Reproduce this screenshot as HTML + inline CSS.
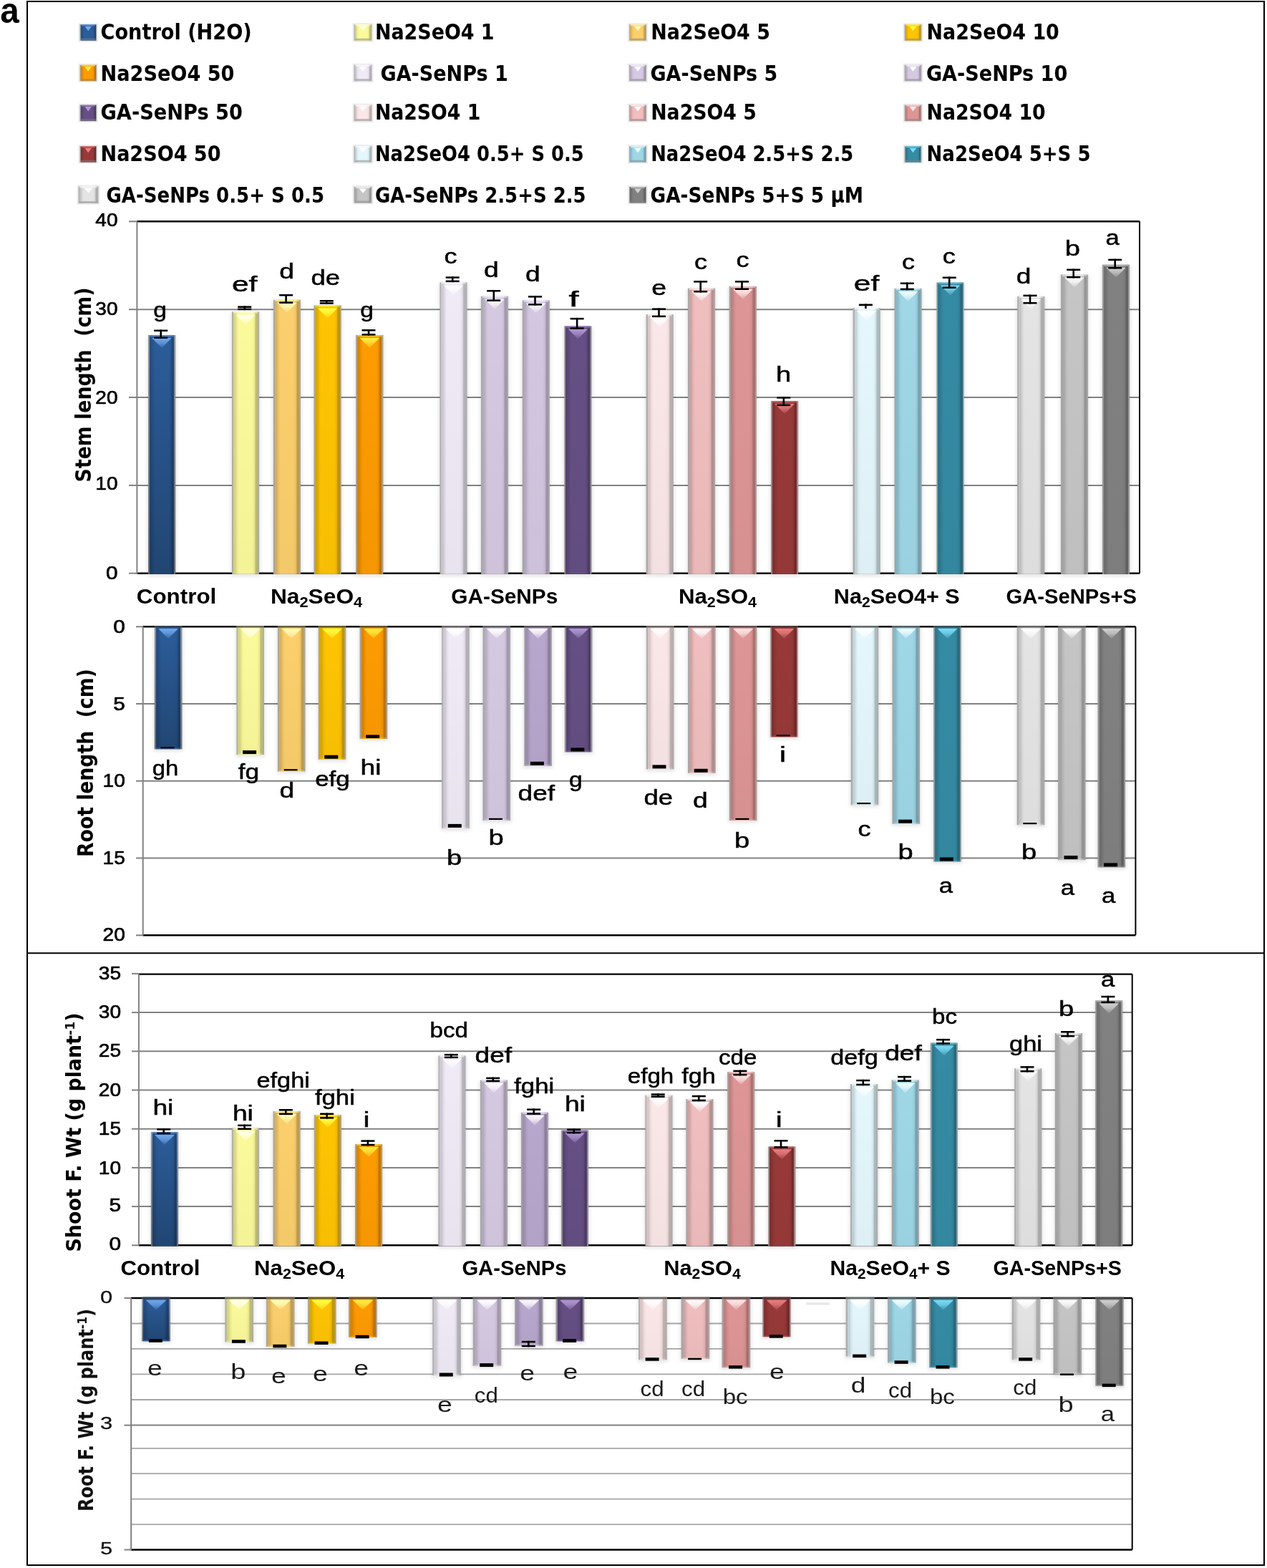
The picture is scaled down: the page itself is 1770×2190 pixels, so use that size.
<!DOCTYPE html>
<html><head><meta charset="utf-8"><title>Chart</title><style>html,body{margin:0;padding:0;background:#fff;}svg{display:block;}</style></head><body><svg width="1770" height="2190" viewBox="0 0 1770 2190"><defs><linearGradient id="vdark2" x1="0" x2="0" y1="0" y2="1"><stop offset="0" stop-color="#000" stop-opacity="0"/><stop offset="1" stop-color="#000" stop-opacity="0.25"/></linearGradient><linearGradient id="vdark" x1="0" x2="0" y1="0" y2="1"><stop offset="0" stop-color="#000" stop-opacity="0"/><stop offset="1" stop-color="#000" stop-opacity="0.03"/></linearGradient><linearGradient id="vg" x1="0" x2="0" y1="0" y2="1"><stop offset="0" stop-color="#fff" stop-opacity="0.75"/><stop offset="1" stop-color="#fff" stop-opacity="0.25"/></linearGradient><filter id="blur" x="-50%" y="-5%" width="200%" height="110%"><feGaussianBlur stdDeviation="2.5"/></filter><linearGradient id="gr2c5d9a" x1="0" x2="1" y1="0" y2="0"><stop offset="0.000" stop-color="#89939f"/><stop offset="0.050" stop-color="#89939f"/><stop offset="0.055" stop-color="#265084"/><stop offset="0.120" stop-color="#265084"/><stop offset="0.190" stop-color="#2a5892"/><stop offset="0.260" stop-color="#2c5d9a"/><stop offset="0.740" stop-color="#2c5d9a"/><stop offset="0.830" stop-color="#295791"/><stop offset="0.875" stop-color="#214775"/><stop offset="0.945" stop-color="#214775"/><stop offset="0.950" stop-color="#89939f"/><stop offset="1.000" stop-color="#89939f"/></linearGradient><linearGradient id="grfbfa9b" x1="0" x2="1" y1="0" y2="0"><stop offset="0.000" stop-color="#b2b29f"/><stop offset="0.050" stop-color="#b2b29f"/><stop offset="0.055" stop-color="#d8d785"/><stop offset="0.120" stop-color="#d8d785"/><stop offset="0.190" stop-color="#efee93"/><stop offset="0.260" stop-color="#fbfa9b"/><stop offset="0.740" stop-color="#fbfa9b"/><stop offset="0.830" stop-color="#eceb92"/><stop offset="0.875" stop-color="#bfbe76"/><stop offset="0.945" stop-color="#bfbe76"/><stop offset="0.950" stop-color="#b2b29f"/><stop offset="1.000" stop-color="#b2b29f"/></linearGradient><linearGradient id="grfbcf6c" x1="0" x2="1" y1="0" y2="0"><stop offset="0.000" stop-color="#b2a996"/><stop offset="0.050" stop-color="#b2a996"/><stop offset="0.055" stop-color="#d8b25d"/><stop offset="0.120" stop-color="#d8b25d"/><stop offset="0.190" stop-color="#efc567"/><stop offset="0.260" stop-color="#fbcf6c"/><stop offset="0.740" stop-color="#fbcf6c"/><stop offset="0.830" stop-color="#ecc366"/><stop offset="0.875" stop-color="#bf9d52"/><stop offset="0.945" stop-color="#bf9d52"/><stop offset="0.950" stop-color="#b2a996"/><stop offset="1.000" stop-color="#b2a996"/></linearGradient><linearGradient id="grfec403" x1="0" x2="1" y1="0" y2="0"><stop offset="0.000" stop-color="#b3a781"/><stop offset="0.050" stop-color="#b3a781"/><stop offset="0.055" stop-color="#daa903"/><stop offset="0.120" stop-color="#daa903"/><stop offset="0.190" stop-color="#f1bb03"/><stop offset="0.260" stop-color="#fec403"/><stop offset="0.740" stop-color="#fec403"/><stop offset="0.830" stop-color="#efb803"/><stop offset="0.875" stop-color="#c19502"/><stop offset="0.945" stop-color="#c19502"/><stop offset="0.950" stop-color="#b3a781"/><stop offset="1.000" stop-color="#b3a781"/></linearGradient><linearGradient id="grfd9b02" x1="0" x2="1" y1="0" y2="0"><stop offset="0.000" stop-color="#b39f80"/><stop offset="0.050" stop-color="#b39f80"/><stop offset="0.055" stop-color="#da8502"/><stop offset="0.120" stop-color="#da8502"/><stop offset="0.190" stop-color="#f19302"/><stop offset="0.260" stop-color="#fd9b02"/><stop offset="0.740" stop-color="#fd9b02"/><stop offset="0.830" stop-color="#ee9202"/><stop offset="0.875" stop-color="#c07602"/><stop offset="0.945" stop-color="#c07602"/><stop offset="0.950" stop-color="#b39f80"/><stop offset="1.000" stop-color="#b39f80"/></linearGradient><linearGradient id="grefeaf5" x1="0" x2="1" y1="0" y2="0"><stop offset="0.000" stop-color="#b0afb1"/><stop offset="0.050" stop-color="#b0afb1"/><stop offset="0.055" stop-color="#cec9d3"/><stop offset="0.120" stop-color="#cec9d3"/><stop offset="0.190" stop-color="#e3dee9"/><stop offset="0.260" stop-color="#efeaf5"/><stop offset="0.740" stop-color="#efeaf5"/><stop offset="0.830" stop-color="#e1dce6"/><stop offset="0.875" stop-color="#b6b2ba"/><stop offset="0.945" stop-color="#b6b2ba"/><stop offset="0.950" stop-color="#b0afb1"/><stop offset="1.000" stop-color="#b0afb1"/></linearGradient><linearGradient id="grd5c9e2" x1="0" x2="1" y1="0" y2="0"><stop offset="0.000" stop-color="#aba8ad"/><stop offset="0.050" stop-color="#aba8ad"/><stop offset="0.055" stop-color="#b7adc2"/><stop offset="0.120" stop-color="#b7adc2"/><stop offset="0.190" stop-color="#cabfd7"/><stop offset="0.260" stop-color="#d5c9e2"/><stop offset="0.740" stop-color="#d5c9e2"/><stop offset="0.830" stop-color="#c8bdd4"/><stop offset="0.875" stop-color="#a299ac"/><stop offset="0.945" stop-color="#a299ac"/><stop offset="0.950" stop-color="#aba8ad"/><stop offset="1.000" stop-color="#aba8ad"/></linearGradient><linearGradient id="gr654f84" x1="0" x2="1" y1="0" y2="0"><stop offset="0.000" stop-color="#94909a"/><stop offset="0.050" stop-color="#94909a"/><stop offset="0.055" stop-color="#574472"/><stop offset="0.120" stop-color="#574472"/><stop offset="0.190" stop-color="#604b7e"/><stop offset="0.260" stop-color="#654f84"/><stop offset="0.740" stop-color="#654f84"/><stop offset="0.830" stop-color="#5f4a7c"/><stop offset="0.875" stop-color="#4d3c64"/><stop offset="0.945" stop-color="#4d3c64"/><stop offset="0.950" stop-color="#94909a"/><stop offset="1.000" stop-color="#94909a"/></linearGradient><linearGradient id="grfbe7e7" x1="0" x2="1" y1="0" y2="0"><stop offset="0.000" stop-color="#b2aeae"/><stop offset="0.050" stop-color="#b2aeae"/><stop offset="0.055" stop-color="#d8c7c7"/><stop offset="0.120" stop-color="#d8c7c7"/><stop offset="0.190" stop-color="#efdcdc"/><stop offset="0.260" stop-color="#fbe7e7"/><stop offset="0.740" stop-color="#fbe7e7"/><stop offset="0.830" stop-color="#ecd9d9"/><stop offset="0.875" stop-color="#bfb0b0"/><stop offset="0.945" stop-color="#bfb0b0"/><stop offset="0.950" stop-color="#b2aeae"/><stop offset="1.000" stop-color="#b2aeae"/></linearGradient><linearGradient id="grf0bebe" x1="0" x2="1" y1="0" y2="0"><stop offset="0.000" stop-color="#b0a6a6"/><stop offset="0.050" stop-color="#b0a6a6"/><stop offset="0.055" stop-color="#cea3a3"/><stop offset="0.120" stop-color="#cea3a3"/><stop offset="0.190" stop-color="#e4b5b5"/><stop offset="0.260" stop-color="#f0bebe"/><stop offset="0.740" stop-color="#f0bebe"/><stop offset="0.830" stop-color="#e2b3b3"/><stop offset="0.875" stop-color="#b69090"/><stop offset="0.945" stop-color="#b69090"/><stop offset="0.950" stop-color="#b0a6a6"/><stop offset="1.000" stop-color="#b0a6a6"/></linearGradient><linearGradient id="grde9595" x1="0" x2="1" y1="0" y2="0"><stop offset="0.000" stop-color="#ac9e9e"/><stop offset="0.050" stop-color="#ac9e9e"/><stop offset="0.055" stop-color="#bf8080"/><stop offset="0.120" stop-color="#bf8080"/><stop offset="0.190" stop-color="#d38e8e"/><stop offset="0.260" stop-color="#de9595"/><stop offset="0.740" stop-color="#de9595"/><stop offset="0.830" stop-color="#d18c8c"/><stop offset="0.875" stop-color="#a97171"/><stop offset="0.945" stop-color="#a97171"/><stop offset="0.950" stop-color="#ac9e9e"/><stop offset="1.000" stop-color="#ac9e9e"/></linearGradient><linearGradient id="gr983939" x1="0" x2="1" y1="0" y2="0"><stop offset="0.000" stop-color="#9e8b8b"/><stop offset="0.050" stop-color="#9e8b8b"/><stop offset="0.055" stop-color="#833131"/><stop offset="0.120" stop-color="#833131"/><stop offset="0.190" stop-color="#913636"/><stop offset="0.260" stop-color="#983939"/><stop offset="0.740" stop-color="#983939"/><stop offset="0.830" stop-color="#8f3636"/><stop offset="0.875" stop-color="#742b2b"/><stop offset="0.945" stop-color="#742b2b"/><stop offset="0.950" stop-color="#9e8b8b"/><stop offset="1.000" stop-color="#9e8b8b"/></linearGradient><linearGradient id="gre4f7fc" x1="0" x2="1" y1="0" y2="0"><stop offset="0.000" stop-color="#aeb1b2"/><stop offset="0.050" stop-color="#aeb1b2"/><stop offset="0.055" stop-color="#c4d4d9"/><stop offset="0.120" stop-color="#c4d4d9"/><stop offset="0.190" stop-color="#d9ebf0"/><stop offset="0.260" stop-color="#e4f7fc"/><stop offset="0.740" stop-color="#e4f7fc"/><stop offset="0.830" stop-color="#d6e8ed"/><stop offset="0.875" stop-color="#adbcc0"/><stop offset="0.945" stop-color="#adbcc0"/><stop offset="0.950" stop-color="#aeb1b2"/><stop offset="1.000" stop-color="#aeb1b2"/></linearGradient><linearGradient id="gr9fd7e7" x1="0" x2="1" y1="0" y2="0"><stop offset="0.000" stop-color="#a0abae"/><stop offset="0.050" stop-color="#a0abae"/><stop offset="0.055" stop-color="#89b9c7"/><stop offset="0.120" stop-color="#89b9c7"/><stop offset="0.190" stop-color="#97ccdc"/><stop offset="0.260" stop-color="#9fd7e7"/><stop offset="0.740" stop-color="#9fd7e7"/><stop offset="0.830" stop-color="#95cad9"/><stop offset="0.875" stop-color="#79a3b0"/><stop offset="0.945" stop-color="#79a3b0"/><stop offset="0.950" stop-color="#a0abae"/><stop offset="1.000" stop-color="#a0abae"/></linearGradient><linearGradient id="gr358ba4" x1="0" x2="1" y1="0" y2="0"><stop offset="0.000" stop-color="#8b9ca1"/><stop offset="0.050" stop-color="#8b9ca1"/><stop offset="0.055" stop-color="#2e788d"/><stop offset="0.120" stop-color="#2e788d"/><stop offset="0.190" stop-color="#33849c"/><stop offset="0.260" stop-color="#358ba4"/><stop offset="0.740" stop-color="#358ba4"/><stop offset="0.830" stop-color="#32839a"/><stop offset="0.875" stop-color="#286a7d"/><stop offset="0.945" stop-color="#286a7d"/><stop offset="0.950" stop-color="#8b9ca1"/><stop offset="1.000" stop-color="#8b9ca1"/></linearGradient><linearGradient id="gre4e4e4" x1="0" x2="1" y1="0" y2="0"><stop offset="0.000" stop-color="#aeaeae"/><stop offset="0.050" stop-color="#aeaeae"/><stop offset="0.055" stop-color="#c4c4c4"/><stop offset="0.120" stop-color="#c4c4c4"/><stop offset="0.190" stop-color="#d9d9d9"/><stop offset="0.260" stop-color="#e4e4e4"/><stop offset="0.740" stop-color="#e4e4e4"/><stop offset="0.830" stop-color="#d6d6d6"/><stop offset="0.875" stop-color="#adadad"/><stop offset="0.945" stop-color="#adadad"/><stop offset="0.950" stop-color="#aeaeae"/><stop offset="1.000" stop-color="#aeaeae"/></linearGradient><linearGradient id="grc5c5c5" x1="0" x2="1" y1="0" y2="0"><stop offset="0.000" stop-color="#a7a7a7"/><stop offset="0.050" stop-color="#a7a7a7"/><stop offset="0.055" stop-color="#a9a9a9"/><stop offset="0.120" stop-color="#a9a9a9"/><stop offset="0.190" stop-color="#bbbbbb"/><stop offset="0.260" stop-color="#c5c5c5"/><stop offset="0.740" stop-color="#c5c5c5"/><stop offset="0.830" stop-color="#b9b9b9"/><stop offset="0.875" stop-color="#969696"/><stop offset="0.945" stop-color="#969696"/><stop offset="0.950" stop-color="#a7a7a7"/><stop offset="1.000" stop-color="#a7a7a7"/></linearGradient><linearGradient id="gr818181" x1="0" x2="1" y1="0" y2="0"><stop offset="0.000" stop-color="#9a9a9a"/><stop offset="0.050" stop-color="#9a9a9a"/><stop offset="0.055" stop-color="#6f6f6f"/><stop offset="0.120" stop-color="#6f6f6f"/><stop offset="0.190" stop-color="#7b7b7b"/><stop offset="0.260" stop-color="#818181"/><stop offset="0.740" stop-color="#818181"/><stop offset="0.830" stop-color="#797979"/><stop offset="0.875" stop-color="#626262"/><stop offset="0.945" stop-color="#626262"/><stop offset="0.950" stop-color="#9a9a9a"/><stop offset="1.000" stop-color="#9a9a9a"/></linearGradient><linearGradient id="vg2c5d9a" x1="0" x2="0" y1="0" y2="1"><stop offset="0" stop-color="#71a9ed" stop-opacity="1"/><stop offset="0.45" stop-color="#71a9ed" stop-opacity="0.75"/><stop offset="1" stop-color="#71a9ed" stop-opacity="0.15"/></linearGradient><linearGradient id="vgfbfa9b" x1="0" x2="0" y1="0" y2="1"><stop offset="0" stop-color="#ffffee" stop-opacity="1"/><stop offset="0.45" stop-color="#ffffee" stop-opacity="0.75"/><stop offset="1" stop-color="#ffffee" stop-opacity="0.15"/></linearGradient><linearGradient id="vgfbcf6c" x1="0" x2="0" y1="0" y2="1"><stop offset="0" stop-color="#ffffb9" stop-opacity="1"/><stop offset="0.45" stop-color="#ffffb9" stop-opacity="0.75"/><stop offset="1" stop-color="#ffffb9" stop-opacity="0.15"/></linearGradient><linearGradient id="vgfec403" x1="0" x2="0" y1="0" y2="1"><stop offset="0" stop-color="#ffff43" stop-opacity="1"/><stop offset="0.45" stop-color="#ffff43" stop-opacity="0.75"/><stop offset="1" stop-color="#ffff43" stop-opacity="0.15"/></linearGradient><linearGradient id="vgfd9b02" x1="0" x2="0" y1="0" y2="1"><stop offset="0" stop-color="#ffee42" stop-opacity="1"/><stop offset="0.45" stop-color="#ffee42" stop-opacity="0.75"/><stop offset="1" stop-color="#ffee42" stop-opacity="0.15"/></linearGradient><linearGradient id="vgefeaf5" x1="0" x2="0" y1="0" y2="1"><stop offset="0" stop-color="#ffffff" stop-opacity="1"/><stop offset="0.45" stop-color="#ffffff" stop-opacity="0.75"/><stop offset="1" stop-color="#ffffff" stop-opacity="0.15"/></linearGradient><linearGradient id="vgd5c9e2" x1="0" x2="0" y1="0" y2="1"><stop offset="0" stop-color="#ffffff" stop-opacity="1"/><stop offset="0.45" stop-color="#ffffff" stop-opacity="0.75"/><stop offset="1" stop-color="#ffffff" stop-opacity="0.15"/></linearGradient><linearGradient id="grd3c7e1" x1="0" x2="1" y1="0" y2="0"><stop offset="0.000" stop-color="#aaa8ad"/><stop offset="0.050" stop-color="#aaa8ad"/><stop offset="0.055" stop-color="#b5abc2"/><stop offset="0.120" stop-color="#b5abc2"/><stop offset="0.190" stop-color="#c8bdd6"/><stop offset="0.260" stop-color="#d3c7e1"/><stop offset="0.740" stop-color="#d3c7e1"/><stop offset="0.830" stop-color="#c6bbd4"/><stop offset="0.875" stop-color="#a097ab"/><stop offset="0.945" stop-color="#a097ab"/><stop offset="0.950" stop-color="#aaa8ad"/><stop offset="1.000" stop-color="#aaa8ad"/></linearGradient><linearGradient id="vgd3c7e1" x1="0" x2="0" y1="0" y2="1"><stop offset="0" stop-color="#ffffff" stop-opacity="1"/><stop offset="0.45" stop-color="#ffffff" stop-opacity="0.75"/><stop offset="1" stop-color="#ffffff" stop-opacity="0.15"/></linearGradient><linearGradient id="vg654f84" x1="0" x2="0" y1="0" y2="1"><stop offset="0" stop-color="#b298d4" stop-opacity="1"/><stop offset="0.45" stop-color="#b298d4" stop-opacity="0.75"/><stop offset="1" stop-color="#b298d4" stop-opacity="0.15"/></linearGradient><linearGradient id="vgfbe7e7" x1="0" x2="0" y1="0" y2="1"><stop offset="0" stop-color="#ffffff" stop-opacity="1"/><stop offset="0.45" stop-color="#ffffff" stop-opacity="0.75"/><stop offset="1" stop-color="#ffffff" stop-opacity="0.15"/></linearGradient><linearGradient id="vgf0bebe" x1="0" x2="0" y1="0" y2="1"><stop offset="0" stop-color="#ffffff" stop-opacity="1"/><stop offset="0.45" stop-color="#ffffff" stop-opacity="0.75"/><stop offset="1" stop-color="#ffffff" stop-opacity="0.15"/></linearGradient><linearGradient id="vgde9595" x1="0" x2="0" y1="0" y2="1"><stop offset="0" stop-color="#ffe8e8" stop-opacity="1"/><stop offset="0.45" stop-color="#ffe8e8" stop-opacity="0.75"/><stop offset="1" stop-color="#ffe8e8" stop-opacity="0.15"/></linearGradient><linearGradient id="vg983939" x1="0" x2="0" y1="0" y2="1"><stop offset="0" stop-color="#eb8080" stop-opacity="1"/><stop offset="0.45" stop-color="#eb8080" stop-opacity="0.75"/><stop offset="1" stop-color="#eb8080" stop-opacity="0.15"/></linearGradient><linearGradient id="vge4f7fc" x1="0" x2="0" y1="0" y2="1"><stop offset="0" stop-color="#ffffff" stop-opacity="1"/><stop offset="0.45" stop-color="#ffffff" stop-opacity="0.75"/><stop offset="1" stop-color="#ffffff" stop-opacity="0.15"/></linearGradient><linearGradient id="vg9fd7e7" x1="0" x2="0" y1="0" y2="1"><stop offset="0" stop-color="#f2ffff" stop-opacity="1"/><stop offset="0.45" stop-color="#f2ffff" stop-opacity="0.75"/><stop offset="1" stop-color="#f2ffff" stop-opacity="0.15"/></linearGradient><linearGradient id="vg358ba4" x1="0" x2="0" y1="0" y2="1"><stop offset="0" stop-color="#7cdcf8" stop-opacity="1"/><stop offset="0.45" stop-color="#7cdcf8" stop-opacity="0.75"/><stop offset="1" stop-color="#7cdcf8" stop-opacity="0.15"/></linearGradient><linearGradient id="vge4e4e4" x1="0" x2="0" y1="0" y2="1"><stop offset="0" stop-color="#ffffff" stop-opacity="1"/><stop offset="0.45" stop-color="#ffffff" stop-opacity="0.75"/><stop offset="1" stop-color="#ffffff" stop-opacity="0.15"/></linearGradient><linearGradient id="vgc5c5c5" x1="0" x2="0" y1="0" y2="1"><stop offset="0" stop-color="#ffffff" stop-opacity="1"/><stop offset="0.45" stop-color="#ffffff" stop-opacity="0.75"/><stop offset="1" stop-color="#ffffff" stop-opacity="0.15"/></linearGradient><linearGradient id="vg818181" x1="0" x2="0" y1="0" y2="1"><stop offset="0" stop-color="#d1d1d1" stop-opacity="1"/><stop offset="0.45" stop-color="#d1d1d1" stop-opacity="0.75"/><stop offset="1" stop-color="#d1d1d1" stop-opacity="0.15"/></linearGradient><linearGradient id="grb8a7cd" x1="0" x2="1" y1="0" y2="0"><stop offset="0.000" stop-color="#a5a1a9"/><stop offset="0.050" stop-color="#a5a1a9"/><stop offset="0.055" stop-color="#9e90b0"/><stop offset="0.120" stop-color="#9e90b0"/><stop offset="0.190" stop-color="#af9fc3"/><stop offset="0.260" stop-color="#b8a7cd"/><stop offset="0.740" stop-color="#b8a7cd"/><stop offset="0.830" stop-color="#ad9dc1"/><stop offset="0.875" stop-color="#8c7f9c"/><stop offset="0.945" stop-color="#8c7f9c"/><stop offset="0.950" stop-color="#a5a1a9"/><stop offset="1.000" stop-color="#a5a1a9"/></linearGradient><linearGradient id="vgb8a7cd" x1="0" x2="0" y1="0" y2="1"><stop offset="0" stop-color="#fffbff" stop-opacity="1"/><stop offset="0.45" stop-color="#fffbff" stop-opacity="0.75"/><stop offset="1" stop-color="#fffbff" stop-opacity="0.15"/></linearGradient></defs><rect x="0" y="0" width="1770" height="2190" fill="#fff"/>
<text x="0.3" y="31.5" font-size="50.0" font-weight="bold" text-anchor="start" font-family="'Liberation Sans', Arial, sans-serif" fill="#000" textLength="26.5" lengthAdjust="spacingAndGlyphs">a</text>
<rect x="38" y="2" width="1728" height="2184" fill="none" stroke="#000" stroke-width="2"/>
<line x1="38" y1="1331.3" x2="1766" y2="1331.3" stroke="#000" stroke-width="2"/>
<rect x="110.5" y="33.2" width="25.5" height="24.5" fill="none" stroke="#ececec" stroke-width="2"/>
<rect x="111.5" y="34.2" width="23.5" height="22.5" fill="url(#gr2c5d9a)"/>
<rect x="113.0" y="53.7" width="20.5" height="3" fill="#60738a" opacity="0.8"/>
<rect x="113.5" y="34.2" width="19.5" height="2" fill="#71a9ed" opacity="0.6"/>
<polygon points="118.5,36.7 128.0,36.7 123.2,43.2" fill="#71a9ed"/>
<text x="140.5" y="55.0" font-size="30.0" font-weight="bold" text-anchor="start" font-family="'DejaVu Sans Condensed', 'DejaVu Sans', 'Liberation Sans', sans-serif" fill="#000" textLength="211.2" lengthAdjust="spacingAndGlyphs">Control (H2O)</text>
<rect x="493.5" y="33.2" width="27.0" height="24.5" fill="none" stroke="#ececec" stroke-width="2"/>
<rect x="494.5" y="34.2" width="25.0" height="22.5" fill="url(#grfbfa9b)"/>
<rect x="496.0" y="53.7" width="22.0" height="3" fill="#aeae8a" opacity="0.8"/>
<rect x="496.5" y="34.2" width="21.0" height="2" fill="#ffffee" opacity="0.6"/>
<polygon points="502.0,36.7 512.0,36.7 507.0,43.2" fill="#ffffee"/>
<text x="523.9" y="55.0" font-size="30.0" font-weight="bold" text-anchor="start" font-family="'DejaVu Sans Condensed', 'DejaVu Sans', 'Liberation Sans', sans-serif" fill="#000" textLength="166.7" lengthAdjust="spacingAndGlyphs">Na2SeO4 1</text>
<rect x="878.0" y="33.2" width="26.0" height="24.5" fill="none" stroke="#ececec" stroke-width="2"/>
<rect x="879.0" y="34.2" width="24.0" height="22.5" fill="url(#grfbcf6c)"/>
<rect x="880.5" y="53.7" width="21.0" height="3" fill="#ae9e78" opacity="0.8"/>
<rect x="881.0" y="34.2" width="20.0" height="2" fill="#ffffb9" opacity="0.6"/>
<polygon points="886.2,36.7 895.8,36.7 891.0,43.2" fill="#ffffb9"/>
<text x="909.2" y="55.0" font-size="30.0" font-weight="bold" text-anchor="start" font-family="'DejaVu Sans Condensed', 'DejaVu Sans', 'Liberation Sans', sans-serif" fill="#000" textLength="166.7" lengthAdjust="spacingAndGlyphs">Na2SeO4 5</text>
<rect x="1262.5" y="33.2" width="26.0" height="24.5" fill="none" stroke="#ececec" stroke-width="2"/>
<rect x="1263.5" y="34.2" width="24.0" height="22.5" fill="url(#grfec403)"/>
<rect x="1265.0" y="53.7" width="21.0" height="3" fill="#af9a51" opacity="0.8"/>
<rect x="1265.5" y="34.2" width="20.0" height="2" fill="#ffff43" opacity="0.6"/>
<polygon points="1270.7,36.7 1280.3,36.7 1275.5,43.2" fill="#ffff43"/>
<text x="1294.6" y="55.0" font-size="30.0" font-weight="bold" text-anchor="start" font-family="'DejaVu Sans Condensed', 'DejaVu Sans', 'Liberation Sans', sans-serif" fill="#000" textLength="185.2" lengthAdjust="spacingAndGlyphs">Na2SeO4 10</text>
<rect x="110.5" y="89.7" width="25.5" height="24.5" fill="none" stroke="#ececec" stroke-width="2"/>
<rect x="111.5" y="90.7" width="23.5" height="22.5" fill="url(#grfd9b02)"/>
<rect x="113.0" y="110.2" width="20.5" height="3" fill="#af8a51" opacity="0.8"/>
<rect x="113.5" y="90.7" width="19.5" height="2" fill="#ffee42" opacity="0.6"/>
<polygon points="118.5,93.2 128.0,93.2 123.2,99.7" fill="#ffee42"/>
<text x="140.5" y="112.6" font-size="30.0" font-weight="bold" text-anchor="start" font-family="'DejaVu Sans Condensed', 'DejaVu Sans', 'Liberation Sans', sans-serif" fill="#000" textLength="187.0" lengthAdjust="spacingAndGlyphs">Na2SeO4 50</text>
<rect x="493.5" y="89.7" width="27.0" height="24.5" fill="none" stroke="#ececec" stroke-width="2"/>
<rect x="494.5" y="90.7" width="25.0" height="22.5" fill="url(#grefeaf5)"/>
<rect x="496.0" y="110.2" width="22.0" height="3" fill="#aaa8ac" opacity="0.8"/>
<rect x="496.5" y="90.7" width="21.0" height="2" fill="#ffffff" opacity="0.6"/>
<polygon points="502.0,93.2 512.0,93.2 507.0,99.7" fill="#ffffff"/>
<text x="531.5" y="112.6" font-size="30.0" font-weight="bold" text-anchor="start" font-family="'DejaVu Sans Condensed', 'DejaVu Sans', 'Liberation Sans', sans-serif" fill="#000" textLength="178.3" lengthAdjust="spacingAndGlyphs">GA-SeNPs 1</text>
<rect x="878.0" y="89.7" width="26.0" height="24.5" fill="none" stroke="#ececec" stroke-width="2"/>
<rect x="879.0" y="90.7" width="24.0" height="22.5" fill="url(#grd5c9e2)"/>
<rect x="880.5" y="110.2" width="21.0" height="3" fill="#a09ca5" opacity="0.8"/>
<rect x="881.0" y="90.7" width="20.0" height="2" fill="#ffffff" opacity="0.6"/>
<polygon points="886.2,93.2 895.8,93.2 891.0,99.7" fill="#ffffff"/>
<text x="908.5" y="112.6" font-size="30.0" font-weight="bold" text-anchor="start" font-family="'DejaVu Sans Condensed', 'DejaVu Sans', 'Liberation Sans', sans-serif" fill="#000" textLength="177.8" lengthAdjust="spacingAndGlyphs">GA-SeNPs 5</text>
<rect x="1262.5" y="89.7" width="26.0" height="24.5" fill="none" stroke="#ececec" stroke-width="2"/>
<rect x="1263.5" y="90.7" width="24.0" height="22.5" fill="url(#grd5c9e2)"/>
<rect x="1265.0" y="110.2" width="21.0" height="3" fill="#a09ca5" opacity="0.8"/>
<rect x="1265.5" y="90.7" width="20.0" height="2" fill="#ffffff" opacity="0.6"/>
<polygon points="1270.7,93.2 1280.3,93.2 1275.5,99.7" fill="#ffffff"/>
<text x="1293.9" y="112.6" font-size="30.0" font-weight="bold" text-anchor="start" font-family="'DejaVu Sans Condensed', 'DejaVu Sans', 'Liberation Sans', sans-serif" fill="#000" textLength="197.4" lengthAdjust="spacingAndGlyphs">GA-SeNPs 10</text>
<rect x="110.5" y="145.6" width="25.5" height="24.5" fill="none" stroke="#ececec" stroke-width="2"/>
<rect x="111.5" y="146.6" width="23.5" height="22.5" fill="url(#gr654f84)"/>
<rect x="113.0" y="166.1" width="20.5" height="3" fill="#766e82" opacity="0.8"/>
<rect x="113.5" y="146.6" width="19.5" height="2" fill="#b298d4" opacity="0.6"/>
<polygon points="118.5,149.1 128.0,149.1 123.2,155.6" fill="#b298d4"/>
<text x="140.5" y="167.0" font-size="30.0" font-weight="bold" text-anchor="start" font-family="'DejaVu Sans Condensed', 'DejaVu Sans', 'Liberation Sans', sans-serif" fill="#000" textLength="198.5" lengthAdjust="spacingAndGlyphs">GA-SeNPs 50</text>
<rect x="493.5" y="145.6" width="27.0" height="24.5" fill="none" stroke="#ececec" stroke-width="2"/>
<rect x="494.5" y="146.6" width="25.0" height="22.5" fill="url(#grfbe7e7)"/>
<rect x="496.0" y="166.1" width="22.0" height="3" fill="#aea6a6" opacity="0.8"/>
<rect x="496.5" y="146.6" width="21.0" height="2" fill="#ffffff" opacity="0.6"/>
<polygon points="502.0,149.1 512.0,149.1 507.0,155.6" fill="#ffffff"/>
<text x="523.9" y="167.0" font-size="30.0" font-weight="bold" text-anchor="start" font-family="'DejaVu Sans Condensed', 'DejaVu Sans', 'Liberation Sans', sans-serif" fill="#000" textLength="147.4" lengthAdjust="spacingAndGlyphs">Na2SO4 1</text>
<rect x="878.0" y="145.6" width="26.0" height="24.5" fill="none" stroke="#ececec" stroke-width="2"/>
<rect x="879.0" y="146.6" width="24.0" height="22.5" fill="url(#grf0bebe)"/>
<rect x="880.5" y="166.1" width="21.0" height="3" fill="#aa9797" opacity="0.8"/>
<rect x="881.0" y="146.6" width="20.0" height="2" fill="#ffffff" opacity="0.6"/>
<polygon points="886.2,149.1 895.8,149.1 891.0,155.6" fill="#ffffff"/>
<text x="909.2" y="167.0" font-size="30.0" font-weight="bold" text-anchor="start" font-family="'DejaVu Sans Condensed', 'DejaVu Sans', 'Liberation Sans', sans-serif" fill="#000" textLength="147.6" lengthAdjust="spacingAndGlyphs">Na2SO4 5</text>
<rect x="1262.5" y="145.6" width="26.0" height="24.5" fill="none" stroke="#ececec" stroke-width="2"/>
<rect x="1263.5" y="146.6" width="24.0" height="22.5" fill="url(#grde9595)"/>
<rect x="1265.0" y="166.1" width="21.0" height="3" fill="#a38888" opacity="0.8"/>
<rect x="1265.5" y="146.6" width="20.0" height="2" fill="#ffe8e8" opacity="0.6"/>
<polygon points="1270.7,149.1 1280.3,149.1 1275.5,155.6" fill="#ffe8e8"/>
<text x="1294.6" y="167.0" font-size="30.0" font-weight="bold" text-anchor="start" font-family="'DejaVu Sans Condensed', 'DejaVu Sans', 'Liberation Sans', sans-serif" fill="#000" textLength="166.0" lengthAdjust="spacingAndGlyphs">Na2SO4 10</text>
<rect x="110.5" y="203.2" width="25.5" height="24.5" fill="none" stroke="#ececec" stroke-width="2"/>
<rect x="111.5" y="204.2" width="23.5" height="22.5" fill="url(#gr983939)"/>
<rect x="113.0" y="223.7" width="20.5" height="3" fill="#896666" opacity="0.8"/>
<rect x="113.5" y="204.2" width="19.5" height="2" fill="#eb8080" opacity="0.6"/>
<polygon points="118.5,206.7 128.0,206.7 123.2,213.2" fill="#eb8080"/>
<text x="140.5" y="224.8" font-size="30.0" font-weight="bold" text-anchor="start" font-family="'DejaVu Sans Condensed', 'DejaVu Sans', 'Liberation Sans', sans-serif" fill="#000" textLength="168.0" lengthAdjust="spacingAndGlyphs">Na2SO4 50</text>
<rect x="493.5" y="203.2" width="27.0" height="24.5" fill="none" stroke="#ececec" stroke-width="2"/>
<rect x="494.5" y="204.2" width="25.0" height="22.5" fill="url(#gre4f7fc)"/>
<rect x="496.0" y="223.7" width="22.0" height="3" fill="#a6acae" opacity="0.8"/>
<rect x="496.5" y="204.2" width="21.0" height="2" fill="#ffffff" opacity="0.6"/>
<polygon points="502.0,206.7 512.0,206.7 507.0,213.2" fill="#ffffff"/>
<text x="523.9" y="224.8" font-size="30.0" font-weight="bold" text-anchor="start" font-family="'DejaVu Sans Condensed', 'DejaVu Sans', 'Liberation Sans', sans-serif" fill="#000" textLength="291.9" lengthAdjust="spacingAndGlyphs">Na2SeO4 0.5+ S 0.5</text>
<rect x="878.0" y="203.2" width="26.0" height="24.5" fill="none" stroke="#ececec" stroke-width="2"/>
<rect x="879.0" y="204.2" width="24.0" height="22.5" fill="url(#gr9fd7e7)"/>
<rect x="880.5" y="223.7" width="21.0" height="3" fill="#8ca0a6" opacity="0.8"/>
<rect x="881.0" y="204.2" width="20.0" height="2" fill="#f2ffff" opacity="0.6"/>
<polygon points="886.2,206.7 895.8,206.7 891.0,213.2" fill="#f2ffff"/>
<text x="909.2" y="224.8" font-size="30.0" font-weight="bold" text-anchor="start" font-family="'DejaVu Sans Condensed', 'DejaVu Sans', 'Liberation Sans', sans-serif" fill="#000" textLength="283.1" lengthAdjust="spacingAndGlyphs">Na2SeO4 2.5+S 2.5</text>
<rect x="1262.5" y="203.2" width="26.0" height="24.5" fill="none" stroke="#ececec" stroke-width="2"/>
<rect x="1263.5" y="204.2" width="24.0" height="22.5" fill="url(#gr358ba4)"/>
<rect x="1265.0" y="223.7" width="21.0" height="3" fill="#64848e" opacity="0.8"/>
<rect x="1265.5" y="204.2" width="20.0" height="2" fill="#7cdcf8" opacity="0.6"/>
<polygon points="1270.7,206.7 1280.3,206.7 1275.5,213.2" fill="#7cdcf8"/>
<text x="1294.6" y="224.8" font-size="30.0" font-weight="bold" text-anchor="start" font-family="'DejaVu Sans Condensed', 'DejaVu Sans', 'Liberation Sans', sans-serif" fill="#000" textLength="228.9" lengthAdjust="spacingAndGlyphs">Na2SeO4 5+S 5</text>
<rect x="108.5" y="259.5" width="30.0" height="25.5" fill="none" stroke="#ececec" stroke-width="2"/>
<rect x="109.5" y="260.5" width="28.0" height="23.5" fill="url(#gre4e4e4)"/>
<rect x="111.0" y="281.0" width="25.0" height="3" fill="#a6a6a6" opacity="0.8"/>
<rect x="111.5" y="260.5" width="24.0" height="2" fill="#ffffff" opacity="0.6"/>
<polygon points="117.9,263.0 129.1,263.0 123.5,269.5" fill="#ffffff"/>
<text x="148.5" y="282.6" font-size="30.0" font-weight="bold" text-anchor="start" font-family="'DejaVu Sans Condensed', 'DejaVu Sans', 'Liberation Sans', sans-serif" fill="#000" textLength="304.5" lengthAdjust="spacingAndGlyphs">GA-SeNPs 0.5+ S 0.5</text>
<rect x="493.5" y="260.0" width="27.0" height="24.5" fill="none" stroke="#ececec" stroke-width="2"/>
<rect x="494.5" y="261.0" width="25.0" height="22.5" fill="url(#grc5c5c5)"/>
<rect x="496.0" y="280.5" width="22.0" height="3" fill="#9a9a9a" opacity="0.8"/>
<rect x="496.5" y="261.0" width="21.0" height="2" fill="#ffffff" opacity="0.6"/>
<polygon points="502.0,263.5 512.0,263.5 507.0,270.0" fill="#ffffff"/>
<text x="523.9" y="282.6" font-size="30.0" font-weight="bold" text-anchor="start" font-family="'DejaVu Sans Condensed', 'DejaVu Sans', 'Liberation Sans', sans-serif" fill="#000" textLength="294.8" lengthAdjust="spacingAndGlyphs">GA-SeNPs 2.5+S 2.5</text>
<rect x="878.0" y="260.0" width="26.0" height="24.5" fill="none" stroke="#ececec" stroke-width="2"/>
<rect x="879.0" y="261.0" width="24.0" height="22.5" fill="url(#gr818181)"/>
<rect x="880.5" y="280.5" width="21.0" height="3" fill="#808080" opacity="0.8"/>
<rect x="881.0" y="261.0" width="20.0" height="2" fill="#d1d1d1" opacity="0.6"/>
<polygon points="886.2,263.5 895.8,263.5 891.0,270.0" fill="#d1d1d1"/>
<text x="908.5" y="282.6" font-size="30.0" font-weight="bold" text-anchor="start" font-family="'DejaVu Sans Condensed', 'DejaVu Sans', 'Liberation Sans', sans-serif" fill="#000" textLength="297.6" lengthAdjust="spacingAndGlyphs">GA-SeNPs 5+S 5 µM</text>
<line x1="191.4" y1="677.9" x2="1592.0" y2="677.9" stroke="#828282" stroke-width="2"/><line x1="191.4" y1="555.0" x2="1592.0" y2="555.0" stroke="#828282" stroke-width="2"/><line x1="191.4" y1="432.2" x2="1592.0" y2="432.2" stroke="#828282" stroke-width="2"/><line x1="180" y1="800.7" x2="191.4" y2="800.7" stroke="#828282" stroke-width="2"/><line x1="180" y1="677.9" x2="191.4" y2="677.9" stroke="#828282" stroke-width="2"/><line x1="180" y1="555.0" x2="191.4" y2="555.0" stroke="#828282" stroke-width="2"/><line x1="180" y1="432.2" x2="191.4" y2="432.2" stroke="#828282" stroke-width="2"/><line x1="180" y1="309.3" x2="191.4" y2="309.3" stroke="#828282" stroke-width="2"/>
<line x1="191.4" y1="800.7" x2="1592.0" y2="800.7" stroke="#000" stroke-width="2.6"/>
<rect x="205.5" y="469.0" width="41.2" height="335.9" fill="#000" opacity="0.10" filter="url(#blur)"/><rect x="207.0" y="468.0" width="38.2" height="333.9" fill="url(#gr2c5d9a)"/><rect x="207.0" y="468.0" width="38.2" height="333.9" fill="url(#vdark2)"/><rect x="209.0" y="468.0" width="34.2" height="2.2" fill="#71a9ed" opacity="0.55"/><polygon points="212.3,472.0 239.8,472.0 226.1,486.0" fill="url(#vg2c5d9a)"/><rect x="322.4" y="436.4" width="41.2" height="368.5" fill="#000" opacity="0.10" filter="url(#blur)"/><rect x="323.9" y="435.4" width="38.2" height="366.5" fill="url(#grfbfa9b)"/><rect x="323.9" y="435.4" width="38.2" height="366.5" fill="url(#vdark)"/><rect x="325.9" y="435.4" width="34.2" height="2.2" fill="#ffffee" opacity="0.55"/><polygon points="329.3,439.4 356.8,439.4 343.1,453.4" fill="url(#vgfbfa9b)"/><rect x="380.3" y="419.7" width="41.2" height="385.2" fill="#000" opacity="0.10" filter="url(#blur)"/><rect x="381.8" y="418.7" width="38.2" height="383.2" fill="url(#grfbcf6c)"/><rect x="381.8" y="418.7" width="38.2" height="383.2" fill="url(#vdark)"/><rect x="383.8" y="418.7" width="34.2" height="2.2" fill="#ffffb9" opacity="0.55"/><polygon points="387.2,422.7 414.7,422.7 400.9,436.7" fill="url(#vgfbcf6c)"/><rect x="437.0" y="427.5" width="41.2" height="377.4" fill="#000" opacity="0.10" filter="url(#blur)"/><rect x="438.5" y="426.5" width="38.2" height="375.4" fill="url(#grfec403)"/><rect x="438.5" y="426.5" width="38.2" height="375.4" fill="url(#vdark)"/><rect x="440.5" y="426.5" width="34.2" height="2.2" fill="#ffff43" opacity="0.55"/><polygon points="443.9,430.5 471.4,430.5 457.6,444.5" fill="url(#vgfec403)"/><rect x="495.7" y="469.0" width="41.2" height="335.9" fill="#000" opacity="0.10" filter="url(#blur)"/><rect x="497.2" y="468.0" width="38.2" height="333.9" fill="url(#grfd9b02)"/><rect x="497.2" y="468.0" width="38.2" height="333.9" fill="url(#vdark)"/><rect x="499.2" y="468.0" width="34.2" height="2.2" fill="#ffee42" opacity="0.55"/><polygon points="502.5,472.0 530.1,472.0 516.3,486.0" fill="url(#vgfd9b02)"/><rect x="612.9" y="395.4" width="41.2" height="409.5" fill="#000" opacity="0.10" filter="url(#blur)"/><rect x="614.4" y="394.4" width="38.2" height="407.5" fill="url(#grefeaf5)"/><rect x="614.4" y="394.4" width="38.2" height="407.5" fill="url(#vdark)"/><rect x="616.4" y="394.4" width="34.2" height="2.2" fill="#ffffff" opacity="0.55"/><polygon points="619.7,398.4 647.2,398.4 633.5,412.4" fill="url(#vgefeaf5)"/><rect x="670.4" y="414.7" width="41.2" height="390.2" fill="#000" opacity="0.10" filter="url(#blur)"/><rect x="671.9" y="413.7" width="38.2" height="388.2" fill="url(#grd5c9e2)"/><rect x="671.9" y="413.7" width="38.2" height="388.2" fill="url(#vdark)"/><rect x="673.9" y="413.7" width="34.2" height="2.2" fill="#ffffff" opacity="0.55"/><polygon points="677.3,417.7 704.8,417.7 691.0,431.7" fill="url(#vgd5c9e2)"/><rect x="728.2" y="420.4" width="41.2" height="384.5" fill="#000" opacity="0.10" filter="url(#blur)"/><rect x="729.7" y="419.4" width="38.2" height="382.5" fill="url(#grd3c7e1)"/><rect x="729.7" y="419.4" width="38.2" height="382.5" fill="url(#vdark)"/><rect x="731.7" y="419.4" width="34.2" height="2.2" fill="#ffffff" opacity="0.55"/><polygon points="735.0,423.4 762.6,423.4 748.8,437.4" fill="url(#vgd3c7e1)"/><rect x="786.8" y="456.4" width="41.2" height="348.5" fill="#000" opacity="0.10" filter="url(#blur)"/><rect x="788.3" y="455.4" width="38.2" height="346.5" fill="url(#gr654f84)"/><rect x="788.3" y="455.4" width="38.2" height="346.5" fill="url(#vdark)"/><rect x="790.3" y="455.4" width="34.2" height="2.2" fill="#b298d4" opacity="0.55"/><polygon points="793.6,459.4 821.2,459.4 807.4,473.4" fill="url(#vg654f84)"/><rect x="901.1" y="440.0" width="41.2" height="364.9" fill="#000" opacity="0.10" filter="url(#blur)"/><rect x="902.6" y="439.0" width="38.2" height="362.9" fill="url(#grfbe7e7)"/><rect x="902.6" y="439.0" width="38.2" height="362.9" fill="url(#vdark)"/><rect x="904.6" y="439.0" width="34.2" height="2.2" fill="#ffffff" opacity="0.55"/><polygon points="908.0,443.0 935.5,443.0 921.8,457.0" fill="url(#vgfbe7e7)"/><rect x="959.4" y="403.7" width="41.2" height="401.2" fill="#000" opacity="0.10" filter="url(#blur)"/><rect x="960.9" y="402.7" width="38.2" height="399.2" fill="url(#grf0bebe)"/><rect x="960.9" y="402.7" width="38.2" height="399.2" fill="url(#vdark)"/><rect x="962.9" y="402.7" width="34.2" height="2.2" fill="#ffffff" opacity="0.55"/><polygon points="966.2,406.7 993.7,406.7 980.0,420.7" fill="url(#vgf0bebe)"/><rect x="1017.2" y="400.9" width="41.2" height="404.0" fill="#000" opacity="0.10" filter="url(#blur)"/><rect x="1018.7" y="399.9" width="38.2" height="402.0" fill="url(#grde9595)"/><rect x="1018.7" y="399.9" width="38.2" height="402.0" fill="url(#vdark)"/><rect x="1020.7" y="399.9" width="34.2" height="2.2" fill="#ffe8e8" opacity="0.55"/><polygon points="1024.0,403.9 1051.6,403.9 1037.8,417.9" fill="url(#vgde9595)"/><rect x="1075.5" y="561.0" width="41.2" height="243.9" fill="#000" opacity="0.10" filter="url(#blur)"/><rect x="1077.0" y="560.0" width="38.2" height="241.9" fill="url(#gr983939)"/><rect x="1077.0" y="560.0" width="38.2" height="241.9" fill="url(#vdark)"/><rect x="1079.0" y="560.0" width="34.2" height="2.2" fill="#eb8080" opacity="0.55"/><polygon points="1082.3,564.0 1109.9,564.0 1096.1,578.0" fill="url(#vg983939)"/><rect x="1190.1" y="431.0" width="41.2" height="373.9" fill="#000" opacity="0.10" filter="url(#blur)"/><rect x="1191.6" y="430.0" width="38.2" height="371.9" fill="url(#gre4f7fc)"/><rect x="1191.6" y="430.0" width="38.2" height="371.9" fill="url(#vdark)"/><rect x="1193.6" y="430.0" width="34.2" height="2.2" fill="#ffffff" opacity="0.55"/><polygon points="1196.9,434.0 1224.5,434.0 1210.7,448.0" fill="url(#vge4f7fc)"/><rect x="1248.0" y="403.9" width="41.2" height="401.0" fill="#000" opacity="0.10" filter="url(#blur)"/><rect x="1249.5" y="402.9" width="38.2" height="399.0" fill="url(#gr9fd7e7)"/><rect x="1249.5" y="402.9" width="38.2" height="399.0" fill="url(#vdark)"/><rect x="1251.5" y="402.9" width="34.2" height="2.2" fill="#f2ffff" opacity="0.55"/><polygon points="1254.8,406.9 1282.3,406.9 1268.5,420.9" fill="url(#vg9fd7e7)"/><rect x="1306.9" y="395.5" width="41.2" height="409.4" fill="#000" opacity="0.10" filter="url(#blur)"/><rect x="1308.4" y="394.5" width="38.2" height="407.4" fill="url(#gr358ba4)"/><rect x="1308.4" y="394.5" width="38.2" height="407.4" fill="url(#vdark)"/><rect x="1310.4" y="394.5" width="34.2" height="2.2" fill="#7cdcf8" opacity="0.55"/><polygon points="1313.7,398.5 1341.2,398.5 1327.5,412.5" fill="url(#vg358ba4)"/><rect x="1419.7" y="414.9" width="41.2" height="390.0" fill="#000" opacity="0.10" filter="url(#blur)"/><rect x="1421.2" y="413.9" width="38.2" height="388.0" fill="url(#gre4e4e4)"/><rect x="1421.2" y="413.9" width="38.2" height="388.0" fill="url(#vdark)"/><rect x="1423.2" y="413.9" width="34.2" height="2.2" fill="#ffffff" opacity="0.55"/><polygon points="1426.5,417.9 1454.1,417.9 1440.3,431.9" fill="url(#vge4e4e4)"/><rect x="1480.4" y="384.5" width="41.2" height="420.4" fill="#000" opacity="0.10" filter="url(#blur)"/><rect x="1481.9" y="383.5" width="38.2" height="418.4" fill="url(#grc5c5c5)"/><rect x="1481.9" y="383.5" width="38.2" height="418.4" fill="url(#vdark)"/><rect x="1483.9" y="383.5" width="34.2" height="2.2" fill="#ffffff" opacity="0.55"/><polygon points="1487.2,387.5 1514.7,387.5 1501.0,401.5" fill="url(#vgc5c5c5)"/><rect x="1538.4" y="370.7" width="41.2" height="434.2" fill="#000" opacity="0.10" filter="url(#blur)"/><rect x="1539.9" y="369.7" width="38.2" height="432.2" fill="url(#gr818181)"/><rect x="1539.9" y="369.7" width="38.2" height="432.2" fill="url(#vdark)"/><rect x="1541.9" y="369.7" width="34.2" height="2.2" fill="#d1d1d1" opacity="0.55"/><polygon points="1545.2,373.7 1572.8,373.7 1559.0,387.7" fill="url(#vg818181)"/>
<line x1="191.4" y1="309.3" x2="1592.0" y2="309.3" stroke="#000" stroke-width="2.4"/>
<line x1="1592.0" y1="309.3" x2="1592.0" y2="800.7" stroke="#000" stroke-width="2"/>
<line x1="191.4" y1="309.3" x2="191.4" y2="801.7" stroke="#828282" stroke-width="2"/>
<rect x="223.4" y="460.5" width="2.6" height="12.4" fill="#000"/><rect x="215.2" y="460.5" width="19.0" height="2.5" fill="#000"/><rect x="215.2" y="470.4" width="19.0" height="2.5" fill="#000"/><rect x="340.4" y="427.4" width="2.6" height="5.7" fill="#000"/><rect x="332.2" y="427.4" width="19.0" height="2.5" fill="#000"/><rect x="332.2" y="430.6" width="19.0" height="2.5" fill="#000"/><rect x="398.3" y="411.0" width="2.6" height="12.9" fill="#000"/><rect x="390.1" y="411.0" width="19.0" height="2.5" fill="#000"/><rect x="390.1" y="421.4" width="19.0" height="2.5" fill="#000"/><rect x="455.0" y="419.0" width="2.6" height="5.8" fill="#000"/><rect x="446.8" y="419.0" width="19.0" height="2.5" fill="#000"/><rect x="446.8" y="422.3" width="19.0" height="2.5" fill="#000"/><rect x="513.7" y="460.0" width="2.6" height="8.6" fill="#000"/><rect x="505.5" y="460.0" width="19.0" height="2.5" fill="#000"/><rect x="505.5" y="466.1" width="19.0" height="2.5" fill="#000"/><rect x="630.9" y="386.3" width="2.6" height="7.8" fill="#000"/><rect x="622.7" y="386.3" width="19.0" height="2.5" fill="#000"/><rect x="622.7" y="391.6" width="19.0" height="2.5" fill="#000"/><rect x="688.5" y="405.0" width="2.6" height="15.9" fill="#000"/><rect x="680.2" y="405.0" width="19.0" height="2.5" fill="#000"/><rect x="680.2" y="418.4" width="19.0" height="2.5" fill="#000"/><rect x="746.2" y="413.1" width="2.6" height="13.5" fill="#000"/><rect x="738.0" y="413.1" width="19.0" height="2.5" fill="#000"/><rect x="738.0" y="424.1" width="19.0" height="2.5" fill="#000"/><rect x="804.8" y="443.9" width="2.6" height="15.9" fill="#000"/><rect x="796.6" y="443.9" width="19.0" height="2.5" fill="#000"/><rect x="796.6" y="457.3" width="19.0" height="2.5" fill="#000"/><rect x="919.2" y="430.4" width="2.6" height="12.7" fill="#000"/><rect x="911.0" y="430.4" width="19.0" height="2.5" fill="#000"/><rect x="911.0" y="440.6" width="19.0" height="2.5" fill="#000"/><rect x="977.4" y="392.1" width="2.6" height="16.4" fill="#000"/><rect x="969.2" y="392.1" width="19.0" height="2.5" fill="#000"/><rect x="969.2" y="406.0" width="19.0" height="2.5" fill="#000"/><rect x="1035.2" y="392.1" width="2.6" height="12.9" fill="#000"/><rect x="1027.0" y="392.1" width="19.0" height="2.5" fill="#000"/><rect x="1027.0" y="402.5" width="19.0" height="2.5" fill="#000"/><rect x="1093.5" y="554.2" width="2.6" height="12.9" fill="#000"/><rect x="1085.3" y="554.2" width="19.0" height="2.5" fill="#000"/><rect x="1085.3" y="564.6" width="19.0" height="2.5" fill="#000"/><rect x="1208.1" y="424.5" width="2.6" height="6.5" fill="#000"/><rect x="1199.9" y="424.5" width="19" height="2.7" fill="#000"/><rect x="1266.0" y="394.5" width="2.6" height="10.7" fill="#000"/><rect x="1257.8" y="394.5" width="19.0" height="2.5" fill="#000"/><rect x="1257.8" y="402.7" width="19.0" height="2.5" fill="#000"/><rect x="1324.9" y="386.5" width="2.6" height="16.4" fill="#000"/><rect x="1316.7" y="386.5" width="19.0" height="2.5" fill="#000"/><rect x="1316.7" y="400.4" width="19.0" height="2.5" fill="#000"/><rect x="1437.7" y="411.6" width="2.6" height="12.9" fill="#000"/><rect x="1429.5" y="411.6" width="19.0" height="2.5" fill="#000"/><rect x="1429.5" y="422.0" width="19.0" height="2.5" fill="#000"/><rect x="1498.4" y="375.5" width="2.6" height="12.9" fill="#000"/><rect x="1490.2" y="375.5" width="19.0" height="2.5" fill="#000"/><rect x="1490.2" y="385.9" width="19.0" height="2.5" fill="#000"/><rect x="1556.4" y="361.6" width="2.6" height="13.9" fill="#000"/><rect x="1548.2" y="361.6" width="19.0" height="2.5" fill="#000"/><rect x="1548.2" y="373.0" width="19.0" height="2.5" fill="#000"/>
<text x="133.3" y="315.9" font-size="26.5" font-weight="normal" text-anchor="start" font-family="'Liberation Sans', Arial, sans-serif" fill="#000" textLength="31.2" lengthAdjust="spacingAndGlyphs" stroke="#000" stroke-width="0.70">40</text><text x="133.3" y="439.8" font-size="26.5" font-weight="normal" text-anchor="start" font-family="'Liberation Sans', Arial, sans-serif" fill="#000" textLength="31.2" lengthAdjust="spacingAndGlyphs" stroke="#000" stroke-width="0.70">30</text><text x="133.3" y="563.5" font-size="26.5" font-weight="normal" text-anchor="start" font-family="'Liberation Sans', Arial, sans-serif" fill="#000" textLength="31.2" lengthAdjust="spacingAndGlyphs" stroke="#000" stroke-width="0.70">20</text><text x="133.3" y="684.2" font-size="26.5" font-weight="normal" text-anchor="start" font-family="'Liberation Sans', Arial, sans-serif" fill="#000" textLength="31.2" lengthAdjust="spacingAndGlyphs" stroke="#000" stroke-width="0.70">10</text><text x="147.9" y="808.7" font-size="26.5" font-weight="normal" text-anchor="start" font-family="'Liberation Sans', Arial, sans-serif" fill="#000" textLength="16.6" lengthAdjust="spacingAndGlyphs" stroke="#000" stroke-width="0.70">0</text>
<text style="white-space:pre" transform="translate(127.3,673.4) rotate(-90)" x="0" y="0" font-size="30.0" font-weight="bold" font-family="'DejaVu Sans Condensed', 'DejaVu Sans', 'Liberation Sans', sans-serif" fill="#000" textLength="271.9" lengthAdjust="spacingAndGlyphs">Stem length  (cm)</text>
<text x="214.2" y="443.0" font-size="30.0" font-weight="normal" text-anchor="start" font-family="'Liberation Sans', Arial, sans-serif" fill="#000" textLength="18.7" lengthAdjust="spacingAndGlyphs" stroke="#000" stroke-width="0.50">g</text><text x="323.9" y="406.6" font-size="30.0" font-weight="normal" text-anchor="start" font-family="'Liberation Sans', Arial, sans-serif" fill="#000" textLength="35.5" lengthAdjust="spacingAndGlyphs" stroke="#000" stroke-width="0.50">ef</text><text x="390.3" y="389.4" font-size="30.0" font-weight="normal" text-anchor="start" font-family="'Liberation Sans', Arial, sans-serif" fill="#000" textLength="20.7" lengthAdjust="spacingAndGlyphs" stroke="#000" stroke-width="0.50">d</text><text x="434.4" y="398.0" font-size="30.0" font-weight="normal" text-anchor="start" font-family="'Liberation Sans', Arial, sans-serif" fill="#000" textLength="40.5" lengthAdjust="spacingAndGlyphs" stroke="#000" stroke-width="0.50">de</text><text x="503.2" y="443.0" font-size="30.0" font-weight="normal" text-anchor="start" font-family="'Liberation Sans', Arial, sans-serif" fill="#000" textLength="18.7" lengthAdjust="spacingAndGlyphs" stroke="#000" stroke-width="0.50">g</text><text x="620.5" y="367.6" font-size="30.0" font-weight="normal" text-anchor="start" font-family="'Liberation Sans', Arial, sans-serif" fill="#000" textLength="18.0" lengthAdjust="spacingAndGlyphs" stroke="#000" stroke-width="0.50">c</text><text x="676.1" y="387.2" font-size="30.0" font-weight="normal" text-anchor="start" font-family="'Liberation Sans', Arial, sans-serif" fill="#000" textLength="20.7" lengthAdjust="spacingAndGlyphs" stroke="#000" stroke-width="0.50">d</text><text x="733.9" y="393.0" font-size="30.0" font-weight="normal" text-anchor="start" font-family="'Liberation Sans', Arial, sans-serif" fill="#000" textLength="20.7" lengthAdjust="spacingAndGlyphs" stroke="#000" stroke-width="0.50">d</text><text x="794.4" y="428.1" font-size="30.0" font-weight="normal" text-anchor="start" font-family="'Liberation Sans', Arial, sans-serif" fill="#000" textLength="14.0" lengthAdjust="spacingAndGlyphs" stroke="#000" stroke-width="0.50">f</text><text x="910.3" y="412.2" font-size="30.0" font-weight="normal" text-anchor="start" font-family="'Liberation Sans', Arial, sans-serif" fill="#000" textLength="20.8" lengthAdjust="spacingAndGlyphs" stroke="#000" stroke-width="0.50">e</text><text x="970.1" y="375.7" font-size="30.0" font-weight="normal" text-anchor="start" font-family="'Liberation Sans', Arial, sans-serif" fill="#000" textLength="18.0" lengthAdjust="spacingAndGlyphs" stroke="#000" stroke-width="0.50">c</text><text x="1028.4" y="372.8" font-size="30.0" font-weight="normal" text-anchor="start" font-family="'Liberation Sans', Arial, sans-serif" fill="#000" textLength="18.0" lengthAdjust="spacingAndGlyphs" stroke="#000" stroke-width="0.50">c</text><text x="1083.9" y="532.6" font-size="30.0" font-weight="normal" text-anchor="start" font-family="'Liberation Sans', Arial, sans-serif" fill="#000" textLength="21.2" lengthAdjust="spacingAndGlyphs" stroke="#000" stroke-width="0.50">h</text><text x="1192.8" y="406.1" font-size="30.0" font-weight="normal" text-anchor="start" font-family="'Liberation Sans', Arial, sans-serif" fill="#000" textLength="35.5" lengthAdjust="spacingAndGlyphs" stroke="#000" stroke-width="0.50">ef</text><text x="1260.0" y="376.1" font-size="30.0" font-weight="normal" text-anchor="start" font-family="'Liberation Sans', Arial, sans-serif" fill="#000" textLength="18.0" lengthAdjust="spacingAndGlyphs" stroke="#000" stroke-width="0.50">c</text><text x="1316.8" y="368.1" font-size="30.0" font-weight="normal" text-anchor="start" font-family="'Liberation Sans', Arial, sans-serif" fill="#000" textLength="18.0" lengthAdjust="spacingAndGlyphs" stroke="#000" stroke-width="0.50">c</text><text x="1419.7" y="395.5" font-size="30.0" font-weight="normal" text-anchor="start" font-family="'Liberation Sans', Arial, sans-serif" fill="#000" textLength="20.7" lengthAdjust="spacingAndGlyphs" stroke="#000" stroke-width="0.50">d</text><text x="1487.8" y="356.8" font-size="30.0" font-weight="normal" text-anchor="start" font-family="'Liberation Sans', Arial, sans-serif" fill="#000" textLength="21.2" lengthAdjust="spacingAndGlyphs" stroke="#000" stroke-width="0.50">b</text><text x="1544.5" y="342.3" font-size="30.0" font-weight="normal" text-anchor="start" font-family="'Liberation Sans', Arial, sans-serif" fill="#000" textLength="19.3" lengthAdjust="spacingAndGlyphs" stroke="#000" stroke-width="0.50">a</text>
<text x="190.8" y="843.3" font-size="29.0" font-weight="bold" text-anchor="start" font-family="'Liberation Sans', Arial, sans-serif" fill="#000" textLength="111.5" lengthAdjust="spacingAndGlyphs">Control</text><text x="377.9" y="843.3" font-size="29.0" font-weight="bold" text-anchor="start" font-family="'Liberation Sans', Arial, sans-serif" fill="#000" textLength="128.4" lengthAdjust="spacingAndGlyphs">Na<tspan font-size="20" dy="5">2</tspan><tspan dy="-5">SeO</tspan><tspan font-size="20" dy="5">4</tspan></text><text x="630.3" y="843.3" font-size="29.0" font-weight="bold" text-anchor="start" font-family="'Liberation Sans', Arial, sans-serif" fill="#000" textLength="149.0" lengthAdjust="spacingAndGlyphs">GA-SeNPs</text><text x="947.9" y="843.3" font-size="29.0" font-weight="bold" text-anchor="start" font-family="'Liberation Sans', Arial, sans-serif" fill="#000" textLength="109.1" lengthAdjust="spacingAndGlyphs">Na<tspan font-size="20" dy="5">2</tspan><tspan dy="-5">SO</tspan><tspan font-size="20" dy="5">4</tspan></text><text x="1164.8" y="843.3" font-size="29.0" font-weight="bold" text-anchor="start" font-family="'Liberation Sans', Arial, sans-serif" fill="#000" textLength="176.0" lengthAdjust="spacingAndGlyphs">Na<tspan font-size="20" dy="5">2</tspan><tspan dy="-5">SeO4+ S</tspan></text><text x="1405.5" y="843.3" font-size="29.0" font-weight="bold" text-anchor="start" font-family="'Liberation Sans', Arial, sans-serif" fill="#000" textLength="182.5" lengthAdjust="spacingAndGlyphs">GA-SeNPs+S</text>
<line x1="199.7" y1="983.0" x2="1586.4" y2="983.0" stroke="#828282" stroke-width="2"/><line x1="199.7" y1="1090.8" x2="1586.4" y2="1090.8" stroke="#828282" stroke-width="2"/><line x1="199.7" y1="1198.5" x2="1586.4" y2="1198.5" stroke="#828282" stroke-width="2"/><line x1="190" y1="875.3" x2="199.7" y2="875.3" stroke="#828282" stroke-width="2"/><line x1="190" y1="983.0" x2="199.7" y2="983.0" stroke="#828282" stroke-width="2"/><line x1="190" y1="1090.8" x2="199.7" y2="1090.8" stroke="#828282" stroke-width="2"/><line x1="190" y1="1198.5" x2="199.7" y2="1198.5" stroke="#828282" stroke-width="2"/><line x1="190" y1="1306.3" x2="199.7" y2="1306.3" stroke="#828282" stroke-width="2"/>
<line x1="199.7" y1="875.3" x2="1586.4" y2="875.3" stroke="#000" stroke-width="2.4"/>
<rect x="214.2" y="875.0" width="41.6" height="174.3" fill="#000" opacity="0.10" filter="url(#blur)"/><rect x="215.8" y="874.0" width="38.6" height="172.3" fill="url(#gr2c5d9a)"/><rect x="215.8" y="874.0" width="38.6" height="172.3" fill="url(#vdark2)"/><rect x="217.8" y="874.0" width="34.6" height="2.2" fill="#71a9ed" opacity="0.55"/><rect x="215.8" y="874.0" width="38.6" height="2.6" fill="#324050"/><rect x="217.8" y="1044.3" width="34.6" height="2" fill="#71a9ed" opacity="0.25"/><polygon points="221.2,878.0 248.9,878.0 235.1,892.0" fill="url(#vg2c5d9a)"/><rect x="328.9" y="875.0" width="41.6" height="182.1" fill="#000" opacity="0.10" filter="url(#blur)"/><rect x="330.4" y="874.0" width="38.6" height="180.1" fill="url(#grfbfa9b)"/><rect x="330.4" y="874.0" width="38.6" height="180.1" fill="url(#vdark)"/><rect x="332.4" y="874.0" width="34.6" height="2.2" fill="#ffffee" opacity="0.55"/><rect x="330.4" y="874.0" width="38.6" height="2.6" fill="#6a6a50"/><rect x="332.4" y="1052.1" width="34.6" height="2" fill="#ffffee" opacity="0.25"/><polygon points="335.9,878.0 363.6,878.0 349.8,892.0" fill="url(#vgfbfa9b)"/><rect x="386.4" y="875.0" width="41.6" height="205.4" fill="#000" opacity="0.10" filter="url(#blur)"/><rect x="387.9" y="874.0" width="38.6" height="203.4" fill="url(#grfbcf6c)"/><rect x="387.9" y="874.0" width="38.6" height="203.4" fill="url(#vdark)"/><rect x="389.9" y="874.0" width="34.6" height="2.2" fill="#ffffb9" opacity="0.55"/><rect x="387.9" y="874.0" width="38.6" height="2.6" fill="#6a5e44"/><rect x="389.9" y="1075.4" width="34.6" height="2" fill="#ffffb9" opacity="0.25"/><polygon points="393.4,878.0 421.1,878.0 407.2,892.0" fill="url(#vgfbcf6c)"/><rect x="443.2" y="875.0" width="41.6" height="188.7" fill="#000" opacity="0.10" filter="url(#blur)"/><rect x="444.7" y="874.0" width="38.6" height="186.7" fill="url(#grfec403)"/><rect x="444.7" y="874.0" width="38.6" height="186.7" fill="url(#vdark)"/><rect x="446.7" y="874.0" width="34.6" height="2.2" fill="#ffff43" opacity="0.55"/><rect x="444.7" y="874.0" width="38.6" height="2.6" fill="#6b5b27"/><rect x="446.7" y="1058.7" width="34.6" height="2" fill="#ffff43" opacity="0.25"/><polygon points="450.1,878.0 477.9,878.0 464.0,892.0" fill="url(#vgfec403)"/><rect x="501.1" y="875.0" width="41.6" height="159.9" fill="#000" opacity="0.10" filter="url(#blur)"/><rect x="502.6" y="874.0" width="38.6" height="157.9" fill="url(#grfd9b02)"/><rect x="502.6" y="874.0" width="38.6" height="157.9" fill="url(#vdark)"/><rect x="504.6" y="874.0" width="34.6" height="2.2" fill="#ffee42" opacity="0.55"/><rect x="502.6" y="874.0" width="38.6" height="2.6" fill="#6b5027"/><rect x="504.6" y="1029.9" width="34.6" height="2" fill="#ffee42" opacity="0.25"/><polygon points="508.0,878.0 535.8,878.0 521.9,892.0" fill="url(#vgfd9b02)"/><rect x="615.7" y="875.0" width="41.6" height="284.9" fill="#000" opacity="0.10" filter="url(#blur)"/><rect x="617.2" y="874.0" width="38.6" height="282.9" fill="url(#grefeaf5)"/><rect x="617.2" y="874.0" width="38.6" height="282.9" fill="url(#vdark)"/><rect x="619.2" y="874.0" width="34.6" height="2.2" fill="#ffffff" opacity="0.55"/><rect x="617.2" y="874.0" width="38.6" height="2.6" fill="#676568"/><rect x="619.2" y="1154.9" width="34.6" height="2" fill="#ffffff" opacity="0.25"/><polygon points="622.6,878.0 650.4,878.0 636.5,892.0" fill="url(#vgefeaf5)"/><rect x="673.0" y="875.0" width="41.6" height="274.0" fill="#000" opacity="0.10" filter="url(#blur)"/><rect x="674.5" y="874.0" width="38.6" height="272.0" fill="url(#grd5c9e2)"/><rect x="674.5" y="874.0" width="38.6" height="272.0" fill="url(#vdark)"/><rect x="676.5" y="874.0" width="34.6" height="2.2" fill="#ffffff" opacity="0.55"/><rect x="674.5" y="874.0" width="38.6" height="2.6" fill="#605c64"/><rect x="676.5" y="1144.0" width="34.6" height="2" fill="#ffffff" opacity="0.25"/><polygon points="679.9,878.0 707.6,878.0 693.8,892.0" fill="url(#vgd5c9e2)"/><rect x="730.8" y="875.0" width="41.6" height="197.8" fill="#000" opacity="0.10" filter="url(#blur)"/><rect x="732.3" y="874.0" width="38.6" height="195.8" fill="url(#grb8a7cd)"/><rect x="732.3" y="874.0" width="38.6" height="195.8" fill="url(#vdark)"/><rect x="734.3" y="874.0" width="34.6" height="2.2" fill="#fffbff" opacity="0.55"/><rect x="732.3" y="874.0" width="38.6" height="2.6" fill="#58535e"/><rect x="734.3" y="1067.8" width="34.6" height="2" fill="#fffbff" opacity="0.25"/><polygon points="737.7,878.0 765.5,878.0 751.6,892.0" fill="url(#vgb8a7cd)"/><rect x="787.3" y="875.0" width="41.6" height="178.4" fill="#000" opacity="0.10" filter="url(#blur)"/><rect x="788.8" y="874.0" width="38.6" height="176.4" fill="url(#gr654f84)"/><rect x="788.8" y="874.0" width="38.6" height="176.4" fill="url(#vdark)"/><rect x="790.8" y="874.0" width="34.6" height="2.2" fill="#b298d4" opacity="0.55"/><rect x="788.8" y="874.0" width="38.6" height="2.6" fill="#413c4a"/><rect x="790.8" y="1048.4" width="34.6" height="2" fill="#b298d4" opacity="0.25"/><polygon points="794.2,878.0 822.0,878.0 808.1,892.0" fill="url(#vg654f84)"/><rect x="901.4" y="875.0" width="41.6" height="202.4" fill="#000" opacity="0.10" filter="url(#blur)"/><rect x="902.9" y="874.0" width="38.6" height="200.4" fill="url(#grfbe7e7)"/><rect x="902.9" y="874.0" width="38.6" height="200.4" fill="url(#vdark)"/><rect x="904.9" y="874.0" width="34.6" height="2.2" fill="#ffffff" opacity="0.55"/><rect x="902.9" y="874.0" width="38.6" height="2.6" fill="#6a6565"/><rect x="904.9" y="1072.4" width="34.6" height="2" fill="#ffffff" opacity="0.25"/><polygon points="908.3,878.0 936.1,878.0 922.2,892.0" fill="url(#vgfbe7e7)"/><rect x="959.6" y="875.0" width="41.6" height="207.8" fill="#000" opacity="0.10" filter="url(#blur)"/><rect x="961.1" y="874.0" width="38.6" height="205.8" fill="url(#grf0bebe)"/><rect x="961.1" y="874.0" width="38.6" height="205.8" fill="url(#vdark)"/><rect x="963.1" y="874.0" width="34.6" height="2.2" fill="#ffffff" opacity="0.55"/><rect x="961.1" y="874.0" width="38.6" height="2.6" fill="#675a5a"/><rect x="963.1" y="1077.8" width="34.6" height="2" fill="#ffffff" opacity="0.25"/><polygon points="966.5,878.0 994.3,878.0 980.4,892.0" fill="url(#vgf0bebe)"/><rect x="1017.3" y="875.0" width="41.6" height="274.0" fill="#000" opacity="0.10" filter="url(#blur)"/><rect x="1018.8" y="874.0" width="38.6" height="272.0" fill="url(#grde9595)"/><rect x="1018.8" y="874.0" width="38.6" height="272.0" fill="url(#vdark)"/><rect x="1020.8" y="874.0" width="34.6" height="2.2" fill="#ffe8e8" opacity="0.55"/><rect x="1018.8" y="874.0" width="38.6" height="2.6" fill="#624f4f"/><rect x="1020.8" y="1144.0" width="34.6" height="2" fill="#ffe8e8" opacity="0.25"/><polygon points="1024.2,878.0 1052.0,878.0 1038.1,892.0" fill="url(#vgde9595)"/><rect x="1074.6" y="875.0" width="41.6" height="157.4" fill="#000" opacity="0.10" filter="url(#blur)"/><rect x="1076.1" y="874.0" width="38.6" height="155.4" fill="url(#gr983939)"/><rect x="1076.1" y="874.0" width="38.6" height="155.4" fill="url(#vdark)"/><rect x="1078.1" y="874.0" width="34.6" height="2.2" fill="#eb8080" opacity="0.55"/><rect x="1076.1" y="874.0" width="38.6" height="2.6" fill="#4f3636"/><rect x="1078.1" y="1027.4" width="34.6" height="2" fill="#eb8080" opacity="0.25"/><polygon points="1081.5,878.0 1109.3,878.0 1095.4,892.0" fill="url(#vg983939)"/><rect x="1187.2" y="875.0" width="41.6" height="252.2" fill="#000" opacity="0.10" filter="url(#blur)"/><rect x="1188.7" y="874.0" width="38.6" height="250.2" fill="url(#gre4f7fc)"/><rect x="1188.7" y="874.0" width="38.6" height="250.2" fill="url(#vdark)"/><rect x="1190.7" y="874.0" width="34.6" height="2.2" fill="#ffffff" opacity="0.55"/><rect x="1188.7" y="874.0" width="38.6" height="2.6" fill="#64696a"/><rect x="1190.7" y="1122.2" width="34.6" height="2" fill="#ffffff" opacity="0.25"/><polygon points="1194.1,878.0 1221.9,878.0 1208.0,892.0" fill="url(#vge4f7fc)"/><rect x="1245.0" y="875.0" width="41.6" height="278.7" fill="#000" opacity="0.10" filter="url(#blur)"/><rect x="1246.5" y="874.0" width="38.6" height="276.7" fill="url(#gr9fd7e7)"/><rect x="1246.5" y="874.0" width="38.6" height="276.7" fill="url(#vdark)"/><rect x="1248.5" y="874.0" width="34.6" height="2.2" fill="#f2ffff" opacity="0.55"/><rect x="1246.5" y="874.0" width="38.6" height="2.6" fill="#526165"/><rect x="1248.5" y="1148.7" width="34.6" height="2" fill="#f2ffff" opacity="0.25"/><polygon points="1252.0,878.0 1279.7,878.0 1265.8,892.0" fill="url(#vg9fd7e7)"/><rect x="1302.8" y="875.0" width="41.6" height="331.5" fill="#000" opacity="0.10" filter="url(#blur)"/><rect x="1304.2" y="874.0" width="38.6" height="329.5" fill="url(#gr358ba4)"/><rect x="1304.2" y="874.0" width="38.6" height="329.5" fill="url(#vdark)"/><rect x="1306.2" y="874.0" width="34.6" height="2.2" fill="#7cdcf8" opacity="0.55"/><rect x="1304.2" y="874.0" width="38.6" height="2.6" fill="#354c53"/><rect x="1306.2" y="1201.5" width="34.6" height="2" fill="#7cdcf8" opacity="0.25"/><polygon points="1309.7,878.0 1337.4,878.0 1323.5,892.0" fill="url(#vg358ba4)"/><rect x="1419.2" y="875.0" width="41.6" height="280.2" fill="#000" opacity="0.10" filter="url(#blur)"/><rect x="1420.7" y="874.0" width="38.6" height="278.2" fill="url(#gre4e4e4)"/><rect x="1420.7" y="874.0" width="38.6" height="278.2" fill="url(#vdark)"/><rect x="1422.7" y="874.0" width="34.6" height="2.2" fill="#ffffff" opacity="0.55"/><rect x="1420.7" y="874.0" width="38.6" height="2.6" fill="#646464"/><rect x="1422.7" y="1150.2" width="34.6" height="2" fill="#ffffff" opacity="0.25"/><polygon points="1426.1,878.0 1453.9,878.0 1440.0,892.0" fill="url(#vge4e4e4)"/><rect x="1476.5" y="875.0" width="41.6" height="329.1" fill="#000" opacity="0.10" filter="url(#blur)"/><rect x="1478.0" y="874.0" width="38.6" height="327.1" fill="url(#grc5c5c5)"/><rect x="1478.0" y="874.0" width="38.6" height="327.1" fill="url(#vdark)"/><rect x="1480.0" y="874.0" width="34.6" height="2.2" fill="#ffffff" opacity="0.55"/><rect x="1478.0" y="874.0" width="38.6" height="2.6" fill="#5c5c5c"/><rect x="1480.0" y="1199.1" width="34.6" height="2" fill="#ffffff" opacity="0.25"/><polygon points="1483.4,878.0 1511.1,878.0 1497.2,892.0" fill="url(#vgc5c5c5)"/><rect x="1532.0" y="875.0" width="41.6" height="339.4" fill="#000" opacity="0.10" filter="url(#blur)"/><rect x="1533.5" y="874.0" width="38.6" height="337.4" fill="url(#gr818181)"/><rect x="1533.5" y="874.0" width="38.6" height="337.4" fill="url(#vdark)"/><rect x="1535.5" y="874.0" width="34.6" height="2.2" fill="#d1d1d1" opacity="0.55"/><rect x="1533.5" y="874.0" width="38.6" height="2.6" fill="#494949"/><rect x="1535.5" y="1209.4" width="34.6" height="2" fill="#d1d1d1" opacity="0.25"/><polygon points="1538.9,878.0 1566.7,878.0 1552.8,892.0" fill="url(#vg818181)"/>
<line x1="1586.4" y1="875.3" x2="1586.4" y2="1306.3" stroke="#000" stroke-width="2"/>
<line x1="199.7" y1="1306.3" x2="1586.4" y2="1306.3" stroke="#000" stroke-width="2.6"/>
<line x1="199.7" y1="875.3" x2="199.7" y2="1306.3" stroke="#828282" stroke-width="2"/>
<rect x="224.4" y="1043.1" width="19" height="2.2" fill="#000"/><rect x="339.1" y="1048.1" width="19" height="5.0" fill="#000"/><rect x="396.6" y="1074.2" width="19" height="2.2" fill="#000"/><rect x="453.3" y="1054.7" width="19" height="5.0" fill="#000"/><rect x="511.2" y="1026.4" width="19" height="4.5" fill="#000"/><rect x="625.8" y="1150.9" width="19" height="5.0" fill="#000"/><rect x="683.0" y="1142.8" width="19" height="2.2" fill="#000"/><rect x="740.9" y="1063.8" width="19" height="5.0" fill="#000"/><rect x="797.4" y="1044.4" width="19" height="5.0" fill="#000"/><rect x="911.5" y="1068.4" width="19" height="5.0" fill="#000"/><rect x="969.7" y="1073.8" width="19" height="5.0" fill="#000"/><rect x="1027.4" y="1142.8" width="19" height="2.2" fill="#000"/><rect x="1084.7" y="1026.2" width="19" height="2.2" fill="#000"/><rect x="1197.3" y="1121.0" width="19" height="2.2" fill="#000"/><rect x="1255.1" y="1144.7" width="19" height="5.0" fill="#000"/><rect x="1312.8" y="1197.5" width="19" height="5.0" fill="#000"/><rect x="1429.3" y="1149.0" width="19" height="2.2" fill="#000"/><rect x="1486.5" y="1195.1" width="19" height="5.0" fill="#000"/><rect x="1542.1" y="1205.4" width="19" height="5.0" fill="#000"/>
<text x="158.2" y="883.7" font-size="26.5" font-weight="normal" text-anchor="start" font-family="'Liberation Sans', Arial, sans-serif" fill="#000" textLength="16.6" lengthAdjust="spacingAndGlyphs" stroke="#000" stroke-width="0.70">0</text><text x="158.2" y="991.6" font-size="26.5" font-weight="normal" text-anchor="start" font-family="'Liberation Sans', Arial, sans-serif" fill="#000" textLength="16.6" lengthAdjust="spacingAndGlyphs" stroke="#000" stroke-width="0.70">5</text><text x="143.6" y="1099.2" font-size="26.5" font-weight="normal" text-anchor="start" font-family="'Liberation Sans', Arial, sans-serif" fill="#000" textLength="31.2" lengthAdjust="spacingAndGlyphs" stroke="#000" stroke-width="0.70">10</text><text x="143.6" y="1206.9" font-size="26.5" font-weight="normal" text-anchor="start" font-family="'Liberation Sans', Arial, sans-serif" fill="#000" textLength="31.2" lengthAdjust="spacingAndGlyphs" stroke="#000" stroke-width="0.70">15</text><text x="143.6" y="1313.5" font-size="26.5" font-weight="normal" text-anchor="start" font-family="'Liberation Sans', Arial, sans-serif" fill="#000" textLength="31.2" lengthAdjust="spacingAndGlyphs" stroke="#000" stroke-width="0.70">20</text>
<text style="white-space:pre" transform="translate(130.2,1197.0) rotate(-90)" x="0" y="0" font-size="30.0" font-weight="bold" font-family="'DejaVu Sans Condensed', 'DejaVu Sans', 'Liberation Sans', sans-serif" fill="#000" textLength="262.6" lengthAdjust="spacingAndGlyphs">Root length  (cm)</text>
<text x="212.8" y="1083.0" font-size="30.0" font-weight="normal" text-anchor="start" font-family="'Liberation Sans', Arial, sans-serif" fill="#000" textLength="36.5" lengthAdjust="spacingAndGlyphs" stroke="#000" stroke-width="0.50">gh</text><text x="332.8" y="1087.5" font-size="30.0" font-weight="normal" text-anchor="start" font-family="'Liberation Sans', Arial, sans-serif" fill="#000" textLength="29.5" lengthAdjust="spacingAndGlyphs" stroke="#000" stroke-width="0.50">fg</text><text x="390.4" y="1114.3" font-size="30.0" font-weight="normal" text-anchor="start" font-family="'Liberation Sans', Arial, sans-serif" fill="#000" textLength="20.7" lengthAdjust="spacingAndGlyphs" stroke="#000" stroke-width="0.50">d</text><text x="440.2" y="1097.6" font-size="30.0" font-weight="normal" text-anchor="start" font-family="'Liberation Sans', Arial, sans-serif" fill="#000" textLength="48.5" lengthAdjust="spacingAndGlyphs" stroke="#000" stroke-width="0.50">efg</text><text x="503.5" y="1081.8" font-size="30.0" font-weight="normal" text-anchor="start" font-family="'Liberation Sans', Arial, sans-serif" fill="#000" textLength="29.0" lengthAdjust="spacingAndGlyphs" stroke="#000" stroke-width="0.50">hi</text><text x="624.0" y="1207.7" font-size="30.0" font-weight="normal" text-anchor="start" font-family="'Liberation Sans', Arial, sans-serif" fill="#000" textLength="21.2" lengthAdjust="spacingAndGlyphs" stroke="#000" stroke-width="0.50">b</text><text x="682.6" y="1180.4" font-size="30.0" font-weight="normal" text-anchor="start" font-family="'Liberation Sans', Arial, sans-serif" fill="#000" textLength="21.2" lengthAdjust="spacingAndGlyphs" stroke="#000" stroke-width="0.50">b</text><text x="723.6" y="1117.5" font-size="30.0" font-weight="normal" text-anchor="start" font-family="'Liberation Sans', Arial, sans-serif" fill="#000" textLength="51.5" lengthAdjust="spacingAndGlyphs" stroke="#000" stroke-width="0.50">def</text><text x="794.9" y="1098.9" font-size="30.0" font-weight="normal" text-anchor="start" font-family="'Liberation Sans', Arial, sans-serif" fill="#000" textLength="18.7" lengthAdjust="spacingAndGlyphs" stroke="#000" stroke-width="0.50">g</text><text x="899.5" y="1123.8" font-size="30.0" font-weight="normal" text-anchor="start" font-family="'Liberation Sans', Arial, sans-serif" fill="#000" textLength="40.5" lengthAdjust="spacingAndGlyphs" stroke="#000" stroke-width="0.50">de</text><text x="968.0" y="1128.1" font-size="30.0" font-weight="normal" text-anchor="start" font-family="'Liberation Sans', Arial, sans-serif" fill="#000" textLength="20.7" lengthAdjust="spacingAndGlyphs" stroke="#000" stroke-width="0.50">d</text><text x="1026.1" y="1183.5" font-size="30.0" font-weight="normal" text-anchor="start" font-family="'Liberation Sans', Arial, sans-serif" fill="#000" textLength="21.2" lengthAdjust="spacingAndGlyphs" stroke="#000" stroke-width="0.50">b</text><text x="1089.0" y="1063.5" font-size="30.0" font-weight="normal" text-anchor="start" font-family="'Liberation Sans', Arial, sans-serif" fill="#000" textLength="9.0" lengthAdjust="spacingAndGlyphs" stroke="#000" stroke-width="0.50">i</text><text x="1198.5" y="1167.9" font-size="30.0" font-weight="normal" text-anchor="start" font-family="'Liberation Sans', Arial, sans-serif" fill="#000" textLength="18.0" lengthAdjust="spacingAndGlyphs" stroke="#000" stroke-width="0.50">c</text><text x="1254.4" y="1200.0" font-size="30.0" font-weight="normal" text-anchor="start" font-family="'Liberation Sans', Arial, sans-serif" fill="#000" textLength="21.2" lengthAdjust="spacingAndGlyphs" stroke="#000" stroke-width="0.50">b</text><text x="1311.8" y="1247.2" font-size="30.0" font-weight="normal" text-anchor="start" font-family="'Liberation Sans', Arial, sans-serif" fill="#000" textLength="19.3" lengthAdjust="spacingAndGlyphs" stroke="#000" stroke-width="0.50">a</text><text x="1427.1" y="1200.0" font-size="30.0" font-weight="normal" text-anchor="start" font-family="'Liberation Sans', Arial, sans-serif" fill="#000" textLength="21.2" lengthAdjust="spacingAndGlyphs" stroke="#000" stroke-width="0.50">b</text><text x="1481.8" y="1250.4" font-size="30.0" font-weight="normal" text-anchor="start" font-family="'Liberation Sans', Arial, sans-serif" fill="#000" textLength="19.3" lengthAdjust="spacingAndGlyphs" stroke="#000" stroke-width="0.50">a</text><text x="1539.1" y="1261.2" font-size="30.0" font-weight="normal" text-anchor="start" font-family="'Liberation Sans', Arial, sans-serif" fill="#000" textLength="19.3" lengthAdjust="spacingAndGlyphs" stroke="#000" stroke-width="0.50">a</text>
<line x1="193.9" y1="1685.1" x2="1581.7" y2="1685.1" stroke="#828282" stroke-width="2"/><line x1="193.9" y1="1630.9" x2="1581.7" y2="1630.9" stroke="#828282" stroke-width="2"/><line x1="193.9" y1="1576.7" x2="1581.7" y2="1576.7" stroke="#828282" stroke-width="2"/><line x1="193.9" y1="1522.5" x2="1581.7" y2="1522.5" stroke="#828282" stroke-width="2"/><line x1="193.9" y1="1468.3" x2="1581.7" y2="1468.3" stroke="#828282" stroke-width="2"/><line x1="193.9" y1="1414.1" x2="1581.7" y2="1414.1" stroke="#828282" stroke-width="2"/><line x1="184" y1="1739.3" x2="193.9" y2="1739.3" stroke="#828282" stroke-width="2"/><line x1="184" y1="1685.1" x2="193.9" y2="1685.1" stroke="#828282" stroke-width="2"/><line x1="184" y1="1630.9" x2="193.9" y2="1630.9" stroke="#828282" stroke-width="2"/><line x1="184" y1="1576.7" x2="193.9" y2="1576.7" stroke="#828282" stroke-width="2"/><line x1="184" y1="1522.5" x2="193.9" y2="1522.5" stroke="#828282" stroke-width="2"/><line x1="184" y1="1468.3" x2="193.9" y2="1468.3" stroke="#828282" stroke-width="2"/><line x1="184" y1="1414.1" x2="193.9" y2="1414.1" stroke="#828282" stroke-width="2"/><line x1="184" y1="1359.9" x2="193.9" y2="1359.9" stroke="#828282" stroke-width="2"/>
<line x1="193.9" y1="1739.3" x2="1581.7" y2="1739.3" stroke="#000" stroke-width="2.6"/>
<rect x="209.4" y="1582.0" width="41.2" height="161.5" fill="#000" opacity="0.10" filter="url(#blur)"/><rect x="210.9" y="1581.0" width="38.2" height="159.5" fill="url(#gr2c5d9a)"/><rect x="210.9" y="1581.0" width="38.2" height="159.5" fill="url(#vdark2)"/><rect x="212.9" y="1581.0" width="34.2" height="2.2" fill="#71a9ed" opacity="0.55"/><polygon points="216.2,1585.0 243.8,1585.0 230.0,1599.0" fill="url(#vg2c5d9a)"/><rect x="322.3" y="1576.5" width="41.2" height="167.0" fill="#000" opacity="0.10" filter="url(#blur)"/><rect x="323.8" y="1575.5" width="38.2" height="165.0" fill="url(#grfbfa9b)"/><rect x="323.8" y="1575.5" width="38.2" height="165.0" fill="url(#vdark)"/><rect x="325.8" y="1575.5" width="34.2" height="2.2" fill="#ffffee" opacity="0.55"/><polygon points="329.1,1579.5 356.7,1579.5 342.9,1593.5" fill="url(#vgfbfa9b)"/><rect x="380.0" y="1553.0" width="41.2" height="190.5" fill="#000" opacity="0.10" filter="url(#blur)"/><rect x="381.5" y="1552.0" width="38.2" height="188.5" fill="url(#grfbcf6c)"/><rect x="381.5" y="1552.0" width="38.2" height="188.5" fill="url(#vdark)"/><rect x="383.5" y="1552.0" width="34.2" height="2.2" fill="#ffffb9" opacity="0.55"/><polygon points="386.9,1556.0 414.4,1556.0 400.6,1570.0" fill="url(#vgfbcf6c)"/><rect x="437.3" y="1558.1" width="41.2" height="185.4" fill="#000" opacity="0.10" filter="url(#blur)"/><rect x="438.8" y="1557.1" width="38.2" height="183.4" fill="url(#grfec403)"/><rect x="438.8" y="1557.1" width="38.2" height="183.4" fill="url(#vdark)"/><rect x="440.8" y="1557.1" width="34.2" height="2.2" fill="#ffff43" opacity="0.55"/><polygon points="444.1,1561.1 471.7,1561.1 457.9,1575.1" fill="url(#vgfec403)"/><rect x="494.5" y="1599.0" width="41.2" height="144.5" fill="#000" opacity="0.10" filter="url(#blur)"/><rect x="496.0" y="1598.0" width="38.2" height="142.5" fill="url(#grfd9b02)"/><rect x="496.0" y="1598.0" width="38.2" height="142.5" fill="url(#vdark)"/><rect x="498.0" y="1598.0" width="34.2" height="2.2" fill="#ffee42" opacity="0.55"/><polygon points="501.4,1602.0 528.9,1602.0 515.1,1616.0" fill="url(#vgfd9b02)"/><rect x="610.9" y="1475.4" width="41.2" height="268.1" fill="#000" opacity="0.10" filter="url(#blur)"/><rect x="612.4" y="1474.4" width="38.2" height="266.1" fill="url(#grefeaf5)"/><rect x="612.4" y="1474.4" width="38.2" height="266.1" fill="url(#vdark)"/><rect x="614.4" y="1474.4" width="34.2" height="2.2" fill="#ffffff" opacity="0.55"/><polygon points="617.8,1478.4 645.3,1478.4 631.5,1492.4" fill="url(#vgefeaf5)"/><rect x="669.4" y="1509.6" width="41.2" height="233.9" fill="#000" opacity="0.10" filter="url(#blur)"/><rect x="670.9" y="1508.6" width="38.2" height="231.9" fill="url(#grd5c9e2)"/><rect x="670.9" y="1508.6" width="38.2" height="231.9" fill="url(#vdark)"/><rect x="672.9" y="1508.6" width="34.2" height="2.2" fill="#ffffff" opacity="0.55"/><polygon points="676.3,1512.6 703.8,1512.6 690.0,1526.6" fill="url(#vgd5c9e2)"/><rect x="726.4" y="1554.7" width="41.2" height="188.8" fill="#000" opacity="0.10" filter="url(#blur)"/><rect x="727.9" y="1553.7" width="38.2" height="186.8" fill="url(#grb8a7cd)"/><rect x="727.9" y="1553.7" width="38.2" height="186.8" fill="url(#vdark)"/><rect x="729.9" y="1553.7" width="34.2" height="2.2" fill="#fffbff" opacity="0.55"/><polygon points="733.2,1557.7 760.7,1557.7 747.0,1571.7" fill="url(#vgb8a7cd)"/><rect x="782.4" y="1579.6" width="41.2" height="163.9" fill="#000" opacity="0.10" filter="url(#blur)"/><rect x="783.9" y="1578.6" width="38.2" height="161.9" fill="url(#gr654f84)"/><rect x="783.9" y="1578.6" width="38.2" height="161.9" fill="url(#vdark)"/><rect x="785.9" y="1578.6" width="34.2" height="2.2" fill="#b298d4" opacity="0.55"/><polygon points="789.3,1582.6 816.8,1582.6 803.0,1596.6" fill="url(#vg654f84)"/><rect x="899.9" y="1530.8" width="41.2" height="212.7" fill="#000" opacity="0.10" filter="url(#blur)"/><rect x="901.4" y="1529.8" width="38.2" height="210.7" fill="url(#grfbe7e7)"/><rect x="901.4" y="1529.8" width="38.2" height="210.7" fill="url(#vdark)"/><rect x="903.4" y="1529.8" width="34.2" height="2.2" fill="#ffffff" opacity="0.55"/><polygon points="906.7,1533.8 934.2,1533.8 920.5,1547.8" fill="url(#vgfbe7e7)"/><rect x="956.9" y="1536.0" width="41.2" height="207.5" fill="#000" opacity="0.10" filter="url(#blur)"/><rect x="958.4" y="1535.0" width="38.2" height="205.5" fill="url(#grf0bebe)"/><rect x="958.4" y="1535.0" width="38.2" height="205.5" fill="url(#vdark)"/><rect x="960.4" y="1535.0" width="34.2" height="2.2" fill="#ffffff" opacity="0.55"/><polygon points="963.8,1539.0 991.3,1539.0 977.5,1553.0" fill="url(#vgf0bebe)"/><rect x="1014.6" y="1498.1" width="41.2" height="245.4" fill="#000" opacity="0.10" filter="url(#blur)"/><rect x="1016.1" y="1497.1" width="38.2" height="243.4" fill="url(#grde9595)"/><rect x="1016.1" y="1497.1" width="38.2" height="243.4" fill="url(#vdark)"/><rect x="1018.1" y="1497.1" width="34.2" height="2.2" fill="#ffe8e8" opacity="0.55"/><polygon points="1021.4,1501.1 1048.9,1501.1 1035.2,1515.1" fill="url(#vgde9595)"/><rect x="1071.7" y="1602.3" width="41.2" height="141.2" fill="#000" opacity="0.10" filter="url(#blur)"/><rect x="1073.2" y="1601.3" width="38.2" height="139.2" fill="url(#gr983939)"/><rect x="1073.2" y="1601.3" width="38.2" height="139.2" fill="url(#vdark)"/><rect x="1075.2" y="1601.3" width="34.2" height="2.2" fill="#eb8080" opacity="0.55"/><polygon points="1078.5,1605.3 1106.1,1605.3 1092.3,1619.3" fill="url(#vg983939)"/><rect x="1186.5" y="1515.0" width="41.2" height="228.5" fill="#000" opacity="0.10" filter="url(#blur)"/><rect x="1188.0" y="1514.0" width="38.2" height="226.5" fill="url(#gre4f7fc)"/><rect x="1188.0" y="1514.0" width="38.2" height="226.5" fill="url(#vdark)"/><rect x="1190.0" y="1514.0" width="34.2" height="2.2" fill="#ffffff" opacity="0.55"/><polygon points="1193.3,1518.0 1220.8,1518.0 1207.0,1532.0" fill="url(#vge4f7fc)"/><rect x="1244.2" y="1509.4" width="41.2" height="234.1" fill="#000" opacity="0.10" filter="url(#blur)"/><rect x="1245.7" y="1508.4" width="38.2" height="232.1" fill="url(#gr9fd7e7)"/><rect x="1245.7" y="1508.4" width="38.2" height="232.1" fill="url(#vdark)"/><rect x="1247.7" y="1508.4" width="34.2" height="2.2" fill="#f2ffff" opacity="0.55"/><polygon points="1251.0,1512.4 1278.5,1512.4 1264.8,1526.4" fill="url(#vg9fd7e7)"/><rect x="1298.3" y="1457.5" width="41.2" height="286.0" fill="#000" opacity="0.10" filter="url(#blur)"/><rect x="1299.8" y="1456.5" width="38.2" height="284.0" fill="url(#gr358ba4)"/><rect x="1299.8" y="1456.5" width="38.2" height="284.0" fill="url(#vdark)"/><rect x="1301.8" y="1456.5" width="34.2" height="2.2" fill="#7cdcf8" opacity="0.55"/><polygon points="1305.1,1460.5 1332.7,1460.5 1318.9,1474.5" fill="url(#vg358ba4)"/><rect x="1415.7" y="1493.2" width="41.2" height="250.3" fill="#000" opacity="0.10" filter="url(#blur)"/><rect x="1417.2" y="1492.2" width="38.2" height="248.3" fill="url(#gre4e4e4)"/><rect x="1417.2" y="1492.2" width="38.2" height="248.3" fill="url(#vdark)"/><rect x="1419.2" y="1492.2" width="34.2" height="2.2" fill="#ffffff" opacity="0.55"/><polygon points="1422.5,1496.2 1450.1,1496.2 1436.3,1510.2" fill="url(#vge4e4e4)"/><rect x="1472.3" y="1444.0" width="41.2" height="299.5" fill="#000" opacity="0.10" filter="url(#blur)"/><rect x="1473.8" y="1443.0" width="38.2" height="297.5" fill="url(#grc5c5c5)"/><rect x="1473.8" y="1443.0" width="38.2" height="297.5" fill="url(#vdark)"/><rect x="1475.8" y="1443.0" width="34.2" height="2.2" fill="#ffffff" opacity="0.55"/><polygon points="1479.1,1447.0 1506.7,1447.0 1492.9,1461.0" fill="url(#vgc5c5c5)"/><rect x="1528.6" y="1398.4" width="41.2" height="345.1" fill="#000" opacity="0.10" filter="url(#blur)"/><rect x="1530.1" y="1397.4" width="38.2" height="343.1" fill="url(#gr818181)"/><rect x="1530.1" y="1397.4" width="38.2" height="343.1" fill="url(#vdark)"/><rect x="1532.1" y="1397.4" width="34.2" height="2.2" fill="#d1d1d1" opacity="0.55"/><polygon points="1535.4,1401.4 1563.0,1401.4 1549.2,1415.4" fill="url(#vg818181)"/>
<line x1="193.9" y1="1360.6" x2="1581.7" y2="1360.6" stroke="#000" stroke-width="2.4"/>
<line x1="1581.7" y1="1360.6" x2="1581.7" y2="1739.3" stroke="#000" stroke-width="2"/>
<line x1="193.9" y1="1360.6" x2="193.9" y2="1739.3" stroke="#828282" stroke-width="2"/>
<rect x="227.4" y="1576.1" width="2.6" height="8.1" fill="#000"/><rect x="219.2" y="1576.1" width="19.0" height="2.5" fill="#000"/><rect x="219.2" y="1581.7" width="19.0" height="2.5" fill="#000"/><rect x="340.3" y="1570.6" width="2.6" height="7.4" fill="#000"/><rect x="332.1" y="1570.6" width="19.0" height="2.5" fill="#000"/><rect x="332.1" y="1575.5" width="19.0" height="2.5" fill="#000"/><rect x="398.0" y="1549.0" width="2.6" height="8.1" fill="#000"/><rect x="389.8" y="1549.0" width="19.0" height="2.5" fill="#000"/><rect x="389.8" y="1554.6" width="19.0" height="2.5" fill="#000"/><rect x="455.3" y="1554.5" width="2.6" height="8.1" fill="#000"/><rect x="447.1" y="1554.5" width="19.0" height="2.5" fill="#000"/><rect x="447.1" y="1560.1" width="19.0" height="2.5" fill="#000"/><rect x="512.6" y="1592.3" width="2.6" height="8.0" fill="#000"/><rect x="504.4" y="1592.3" width="19.0" height="2.5" fill="#000"/><rect x="504.4" y="1597.8" width="19.0" height="2.5" fill="#000"/><rect x="629.0" y="1471.9" width="2.6" height="6.2" fill="#000"/><rect x="620.8" y="1471.9" width="19.0" height="2.5" fill="#000"/><rect x="620.8" y="1475.6" width="19.0" height="2.5" fill="#000"/><rect x="687.5" y="1504.6" width="2.6" height="6.5" fill="#000"/><rect x="679.2" y="1504.6" width="19.0" height="2.5" fill="#000"/><rect x="679.2" y="1508.6" width="19.0" height="2.5" fill="#000"/><rect x="744.4" y="1548.4" width="2.6" height="8.4" fill="#000"/><rect x="736.2" y="1548.4" width="19.0" height="2.5" fill="#000"/><rect x="736.2" y="1554.3" width="19.0" height="2.5" fill="#000"/><rect x="800.5" y="1576.4" width="2.6" height="6.9" fill="#000"/><rect x="792.2" y="1576.4" width="19.0" height="2.5" fill="#000"/><rect x="792.2" y="1580.8" width="19.0" height="2.5" fill="#000"/><rect x="917.9" y="1527.3" width="2.6" height="5.6" fill="#000"/><rect x="909.7" y="1527.3" width="19.0" height="2.5" fill="#000"/><rect x="909.7" y="1530.4" width="19.0" height="2.5" fill="#000"/><rect x="975.0" y="1529.8" width="2.6" height="8.4" fill="#000"/><rect x="966.8" y="1529.8" width="19.0" height="2.5" fill="#000"/><rect x="966.8" y="1535.7" width="19.0" height="2.5" fill="#000"/><rect x="1032.6" y="1494.6" width="2.6" height="7.8" fill="#000"/><rect x="1024.4" y="1494.6" width="19.0" height="2.5" fill="#000"/><rect x="1024.4" y="1499.9" width="19.0" height="2.5" fill="#000"/><rect x="1089.7" y="1592.0" width="2.6" height="11.5" fill="#000"/><rect x="1081.5" y="1592.0" width="19.0" height="2.5" fill="#000"/><rect x="1081.5" y="1601.0" width="19.0" height="2.5" fill="#000"/><rect x="1204.5" y="1507.8" width="2.6" height="8.4" fill="#000"/><rect x="1196.2" y="1507.8" width="19.0" height="2.5" fill="#000"/><rect x="1196.2" y="1513.7" width="19.0" height="2.5" fill="#000"/><rect x="1262.2" y="1502.8" width="2.6" height="8.1" fill="#000"/><rect x="1254.0" y="1502.8" width="19.0" height="2.5" fill="#000"/><rect x="1254.0" y="1508.4" width="19.0" height="2.5" fill="#000"/><rect x="1316.3" y="1450.9" width="2.6" height="7.7" fill="#000"/><rect x="1308.1" y="1450.9" width="19.0" height="2.5" fill="#000"/><rect x="1308.1" y="1456.1" width="19.0" height="2.5" fill="#000"/><rect x="1433.7" y="1489.1" width="2.6" height="8.4" fill="#000"/><rect x="1425.5" y="1489.1" width="19.0" height="2.5" fill="#000"/><rect x="1425.5" y="1495.0" width="19.0" height="2.5" fill="#000"/><rect x="1490.3" y="1440.0" width="2.6" height="8.4" fill="#000"/><rect x="1482.1" y="1440.0" width="19.0" height="2.5" fill="#000"/><rect x="1482.1" y="1445.9" width="19.0" height="2.5" fill="#000"/><rect x="1546.6" y="1390.8" width="2.6" height="10.3" fill="#000"/><rect x="1538.4" y="1390.8" width="19.0" height="2.5" fill="#000"/><rect x="1538.4" y="1398.6" width="19.0" height="2.5" fill="#000"/>
<text x="137.8" y="1367.8" font-size="26.0" font-weight="normal" text-anchor="start" font-family="'Liberation Sans', Arial, sans-serif" fill="#000" textLength="31.2" lengthAdjust="spacingAndGlyphs" stroke="#000" stroke-width="0.70">35</text><text x="137.8" y="1422.3" font-size="26.0" font-weight="normal" text-anchor="start" font-family="'Liberation Sans', Arial, sans-serif" fill="#000" textLength="31.2" lengthAdjust="spacingAndGlyphs" stroke="#000" stroke-width="0.70">30</text><text x="137.8" y="1476.3" font-size="26.0" font-weight="normal" text-anchor="start" font-family="'Liberation Sans', Arial, sans-serif" fill="#000" textLength="31.2" lengthAdjust="spacingAndGlyphs" stroke="#000" stroke-width="0.70">25</text><text x="137.8" y="1530.8" font-size="26.0" font-weight="normal" text-anchor="start" font-family="'Liberation Sans', Arial, sans-serif" fill="#000" textLength="31.2" lengthAdjust="spacingAndGlyphs" stroke="#000" stroke-width="0.70">20</text><text x="137.8" y="1585.3" font-size="26.0" font-weight="normal" text-anchor="start" font-family="'Liberation Sans', Arial, sans-serif" fill="#000" textLength="31.2" lengthAdjust="spacingAndGlyphs" stroke="#000" stroke-width="0.70">15</text><text x="137.8" y="1639.8" font-size="26.0" font-weight="normal" text-anchor="start" font-family="'Liberation Sans', Arial, sans-serif" fill="#000" textLength="31.2" lengthAdjust="spacingAndGlyphs" stroke="#000" stroke-width="0.70">10</text><text x="152.4" y="1691.8" font-size="26.0" font-weight="normal" text-anchor="start" font-family="'Liberation Sans', Arial, sans-serif" fill="#000" textLength="16.6" lengthAdjust="spacingAndGlyphs" stroke="#000" stroke-width="0.70">5</text><text x="152.4" y="1745.5" font-size="26.0" font-weight="normal" text-anchor="start" font-family="'Liberation Sans', Arial, sans-serif" fill="#000" textLength="16.6" lengthAdjust="spacingAndGlyphs" stroke="#000" stroke-width="0.70">0</text>
<text style="white-space:pre" transform="translate(112.8,1748.5) rotate(-90)" x="0" y="0" font-size="28.0" font-weight="bold" font-family="'DejaVu Sans Condensed', 'DejaVu Sans', 'Liberation Sans', sans-serif" fill="#000" textLength="334.1" lengthAdjust="spacingAndGlyphs">Shoot F. Wt (g plant<tspan font-size="18" dy="-9">-1</tspan><tspan dy="9">)</tspan></text>
<text x="213.4" y="1557.1" font-size="30.0" font-weight="normal" text-anchor="start" font-family="'Liberation Sans', Arial, sans-serif" fill="#000" textLength="29.0" lengthAdjust="spacingAndGlyphs" stroke="#000" stroke-width="0.50">hi</text><text x="324.9" y="1565.2" font-size="30.0" font-weight="normal" text-anchor="start" font-family="'Liberation Sans', Arial, sans-serif" fill="#000" textLength="29.0" lengthAdjust="spacingAndGlyphs" stroke="#000" stroke-width="0.50">hi</text><text x="358.4" y="1519.0" font-size="30.0" font-weight="normal" text-anchor="start" font-family="'Liberation Sans', Arial, sans-serif" fill="#000" textLength="74.5" lengthAdjust="spacingAndGlyphs" stroke="#000" stroke-width="0.50">efghi</text><text x="439.9" y="1543.2" font-size="30.0" font-weight="normal" text-anchor="start" font-family="'Liberation Sans', Arial, sans-serif" fill="#000" textLength="56.0" lengthAdjust="spacingAndGlyphs" stroke="#000" stroke-width="0.50">fghi</text><text x="507.5" y="1573.9" font-size="30.0" font-weight="normal" text-anchor="start" font-family="'Liberation Sans', Arial, sans-serif" fill="#000" textLength="9.0" lengthAdjust="spacingAndGlyphs" stroke="#000" stroke-width="0.50">i</text><text x="600.5" y="1448.9" font-size="30.0" font-weight="normal" text-anchor="start" font-family="'Liberation Sans', Arial, sans-serif" fill="#000" textLength="53.5" lengthAdjust="spacingAndGlyphs" stroke="#000" stroke-width="0.50">bcd</text><text x="663.6" y="1484.4" font-size="30.0" font-weight="normal" text-anchor="start" font-family="'Liberation Sans', Arial, sans-serif" fill="#000" textLength="51.5" lengthAdjust="spacingAndGlyphs" stroke="#000" stroke-width="0.50">def</text><text x="718.2" y="1527.3" font-size="30.0" font-weight="normal" text-anchor="start" font-family="'Liberation Sans', Arial, sans-serif" fill="#000" textLength="56.0" lengthAdjust="spacingAndGlyphs" stroke="#000" stroke-width="0.50">fghi</text><text x="788.9" y="1552.2" font-size="30.0" font-weight="normal" text-anchor="start" font-family="'Liberation Sans', Arial, sans-serif" fill="#000" textLength="29.0" lengthAdjust="spacingAndGlyphs" stroke="#000" stroke-width="0.50">hi</text><text x="876.8" y="1513.3" font-size="30.0" font-weight="normal" text-anchor="start" font-family="'Liberation Sans', Arial, sans-serif" fill="#000" textLength="64.5" lengthAdjust="spacingAndGlyphs" stroke="#000" stroke-width="0.50">efgh</text><text x="952.2" y="1513.3" font-size="30.0" font-weight="normal" text-anchor="start" font-family="'Liberation Sans', Arial, sans-serif" fill="#000" textLength="47.5" lengthAdjust="spacingAndGlyphs" stroke="#000" stroke-width="0.50">fgh</text><text x="1004.0" y="1486.9" font-size="30.0" font-weight="normal" text-anchor="start" font-family="'Liberation Sans', Arial, sans-serif" fill="#000" textLength="53.5" lengthAdjust="spacingAndGlyphs" stroke="#000" stroke-width="0.50">cde</text><text x="1083.8" y="1574.0" font-size="30.0" font-weight="normal" text-anchor="start" font-family="'Liberation Sans', Arial, sans-serif" fill="#000" textLength="9.0" lengthAdjust="spacingAndGlyphs" stroke="#000" stroke-width="0.50">i</text><text x="1160.2" y="1486.6" font-size="30.0" font-weight="normal" text-anchor="start" font-family="'Liberation Sans', Arial, sans-serif" fill="#000" textLength="66.5" lengthAdjust="spacingAndGlyphs" stroke="#000" stroke-width="0.50">defg</text><text x="1236.2" y="1481.0" font-size="30.0" font-weight="normal" text-anchor="start" font-family="'Liberation Sans', Arial, sans-serif" fill="#000" textLength="51.5" lengthAdjust="spacingAndGlyphs" stroke="#000" stroke-width="0.50">def</text><text x="1302.0" y="1430.0" font-size="30.0" font-weight="normal" text-anchor="start" font-family="'Liberation Sans', Arial, sans-serif" fill="#000" textLength="35.0" lengthAdjust="spacingAndGlyphs" stroke="#000" stroke-width="0.50">bc</text><text x="1410.0" y="1468.0" font-size="30.0" font-weight="normal" text-anchor="start" font-family="'Liberation Sans', Arial, sans-serif" fill="#000" textLength="46.0" lengthAdjust="spacingAndGlyphs" stroke="#000" stroke-width="0.50">ghi</text><text x="1478.9" y="1419.1" font-size="30.0" font-weight="normal" text-anchor="start" font-family="'Liberation Sans', Arial, sans-serif" fill="#000" textLength="21.2" lengthAdjust="spacingAndGlyphs" stroke="#000" stroke-width="0.50">b</text><text x="1538.1" y="1377.8" font-size="30.0" font-weight="normal" text-anchor="start" font-family="'Liberation Sans', Arial, sans-serif" fill="#000" textLength="19.3" lengthAdjust="spacingAndGlyphs" stroke="#000" stroke-width="0.50">a</text>
<text x="168.4" y="1781.3" font-size="29.0" font-weight="bold" text-anchor="start" font-family="'Liberation Sans', Arial, sans-serif" fill="#000" textLength="111.1" lengthAdjust="spacingAndGlyphs">Control</text><text x="355.1" y="1781.3" font-size="29.0" font-weight="bold" text-anchor="start" font-family="'Liberation Sans', Arial, sans-serif" fill="#000" textLength="126.0" lengthAdjust="spacingAndGlyphs">Na<tspan font-size="20" dy="5">2</tspan><tspan dy="-5">SeO</tspan><tspan font-size="20" dy="5">4</tspan></text><text x="645.4" y="1781.3" font-size="29.0" font-weight="bold" text-anchor="start" font-family="'Liberation Sans', Arial, sans-serif" fill="#000" textLength="146.1" lengthAdjust="spacingAndGlyphs">GA-SeNPs</text><text x="927.2" y="1781.3" font-size="29.0" font-weight="bold" text-anchor="start" font-family="'Liberation Sans', Arial, sans-serif" fill="#000" textLength="107.6" lengthAdjust="spacingAndGlyphs">Na<tspan font-size="20" dy="5">2</tspan><tspan dy="-5">SO</tspan><tspan font-size="20" dy="5">4</tspan></text><text x="1159.5" y="1781.3" font-size="29.0" font-weight="bold" text-anchor="start" font-family="'Liberation Sans', Arial, sans-serif" fill="#000" textLength="168.1" lengthAdjust="spacingAndGlyphs">Na<tspan font-size="20" dy="5">2</tspan><tspan dy="-5">SeO</tspan><tspan font-size="20" dy="5">4</tspan><tspan dy="-5">+ S</tspan></text><text x="1387.5" y="1781.3" font-size="29.0" font-weight="bold" text-anchor="start" font-family="'Liberation Sans', Arial, sans-serif" fill="#000" textLength="179.4" lengthAdjust="spacingAndGlyphs">GA-SeNPs+S</text>
<line x1="183.2" y1="1848.5" x2="1581.7" y2="1848.5" stroke="#a6a6a6" stroke-width="1.8"/><line x1="183.2" y1="1883.8" x2="1581.7" y2="1883.8" stroke="#a6a6a6" stroke-width="1.8"/><line x1="183.2" y1="1919.4" x2="1581.7" y2="1919.4" stroke="#a6a6a6" stroke-width="1.8"/><line x1="183.2" y1="1955.0" x2="1581.7" y2="1955.0" stroke="#a6a6a6" stroke-width="1.8"/><line x1="183.2" y1="2022.8" x2="1581.7" y2="2022.8" stroke="#a6a6a6" stroke-width="1.8"/><line x1="183.2" y1="2058.2" x2="1581.7" y2="2058.2" stroke="#a6a6a6" stroke-width="1.8"/><line x1="183.2" y1="2093.6" x2="1581.7" y2="2093.6" stroke="#a6a6a6" stroke-width="1.8"/><line x1="183.2" y1="2129.2" x2="1581.7" y2="2129.2" stroke="#a6a6a6" stroke-width="1.8"/><line x1="183.2" y1="1990.6" x2="1581.7" y2="1990.6" stroke="#808080" stroke-width="2"/><line x1="173.5" y1="1813.0" x2="183.2" y2="1813.0" stroke="#808080" stroke-width="2"/><line x1="173.5" y1="1990.6" x2="183.2" y2="1990.6" stroke="#808080" stroke-width="2"/><line x1="173.5" y1="2164.5" x2="183.2" y2="2164.5" stroke="#808080" stroke-width="2"/>
<line x1="183.2" y1="1813.0" x2="1581.7" y2="1813.0" stroke="#000" stroke-width="2.4"/>
<rect x="196.8" y="1812.7" width="42.6" height="63.6" fill="#000" opacity="0.10" filter="url(#blur)"/><rect x="198.3" y="1811.7" width="39.6" height="61.6" fill="url(#gr2c5d9a)"/><rect x="198.3" y="1811.7" width="39.6" height="61.6" fill="url(#vdark2)"/><rect x="200.3" y="1811.7" width="35.6" height="2.2" fill="#71a9ed" opacity="0.55"/><rect x="198.3" y="1811.7" width="39.6" height="2.6" fill="#324050"/><rect x="200.3" y="1871.3" width="35.6" height="2" fill="#71a9ed" opacity="0.25"/><polygon points="203.8,1815.7 232.4,1815.7 218.1,1829.7" fill="url(#vg2c5d9a)"/><rect x="312.9" y="1812.7" width="42.6" height="64.6" fill="#000" opacity="0.10" filter="url(#blur)"/><rect x="314.4" y="1811.7" width="39.6" height="62.6" fill="url(#grfbfa9b)"/><rect x="314.4" y="1811.7" width="39.6" height="62.6" fill="url(#vdark)"/><rect x="316.4" y="1811.7" width="35.6" height="2.2" fill="#ffffee" opacity="0.55"/><rect x="314.4" y="1811.7" width="39.6" height="2.6" fill="#6a6a50"/><rect x="316.4" y="1872.3" width="35.6" height="2" fill="#ffffee" opacity="0.25"/><polygon points="320.0,1815.7 348.5,1815.7 334.2,1829.7" fill="url(#vgfbfa9b)"/><rect x="370.4" y="1812.7" width="42.6" height="71.1" fill="#000" opacity="0.10" filter="url(#blur)"/><rect x="371.9" y="1811.7" width="39.6" height="69.1" fill="url(#grfbcf6c)"/><rect x="371.9" y="1811.7" width="39.6" height="69.1" fill="url(#vdark)"/><rect x="373.9" y="1811.7" width="35.6" height="2.2" fill="#ffffb9" opacity="0.55"/><rect x="371.9" y="1811.7" width="39.6" height="2.6" fill="#6a5e44"/><rect x="373.9" y="1878.8" width="35.6" height="2" fill="#ffffb9" opacity="0.25"/><polygon points="377.5,1815.7 406.0,1815.7 391.8,1829.7" fill="url(#vgfbcf6c)"/><rect x="428.5" y="1812.7" width="42.6" height="66.8" fill="#000" opacity="0.10" filter="url(#blur)"/><rect x="430.0" y="1811.7" width="39.6" height="64.8" fill="url(#grfec403)"/><rect x="430.0" y="1811.7" width="39.6" height="64.8" fill="url(#vdark)"/><rect x="432.0" y="1811.7" width="35.6" height="2.2" fill="#ffff43" opacity="0.55"/><rect x="430.0" y="1811.7" width="39.6" height="2.6" fill="#6b5b27"/><rect x="432.0" y="1874.5" width="35.6" height="2" fill="#ffff43" opacity="0.25"/><polygon points="435.5,1815.7 464.1,1815.7 449.8,1829.7" fill="url(#vgfec403)"/><rect x="485.6" y="1812.7" width="42.6" height="58.1" fill="#000" opacity="0.10" filter="url(#blur)"/><rect x="487.1" y="1811.7" width="39.6" height="56.1" fill="url(#grfd9b02)"/><rect x="487.1" y="1811.7" width="39.6" height="56.1" fill="url(#vdark)"/><rect x="489.1" y="1811.7" width="35.6" height="2.2" fill="#ffee42" opacity="0.55"/><rect x="487.1" y="1811.7" width="39.6" height="2.6" fill="#6b5027"/><rect x="489.1" y="1865.8" width="35.6" height="2" fill="#ffee42" opacity="0.25"/><polygon points="492.7,1815.7 521.2,1815.7 506.9,1829.7" fill="url(#vgfd9b02)"/><rect x="602.8" y="1812.7" width="42.6" height="111.3" fill="#000" opacity="0.10" filter="url(#blur)"/><rect x="604.3" y="1811.7" width="39.6" height="109.3" fill="url(#grefeaf5)"/><rect x="604.3" y="1811.7" width="39.6" height="109.3" fill="url(#vdark)"/><rect x="606.3" y="1811.7" width="35.6" height="2.2" fill="#ffffff" opacity="0.55"/><rect x="604.3" y="1811.7" width="39.6" height="2.6" fill="#676568"/><rect x="606.3" y="1919.0" width="35.6" height="2" fill="#ffffff" opacity="0.25"/><polygon points="609.8,1815.7 638.4,1815.7 624.1,1829.7" fill="url(#vgefeaf5)"/><rect x="659.2" y="1812.7" width="42.6" height="97.9" fill="#000" opacity="0.10" filter="url(#blur)"/><rect x="660.7" y="1811.7" width="39.6" height="95.9" fill="url(#grd5c9e2)"/><rect x="660.7" y="1811.7" width="39.6" height="95.9" fill="url(#vdark)"/><rect x="662.7" y="1811.7" width="35.6" height="2.2" fill="#ffffff" opacity="0.55"/><rect x="660.7" y="1811.7" width="39.6" height="2.6" fill="#605c64"/><rect x="662.7" y="1905.6" width="35.6" height="2" fill="#ffffff" opacity="0.25"/><polygon points="666.2,1815.7 694.8,1815.7 680.5,1829.7" fill="url(#vgd5c9e2)"/><rect x="717.6" y="1812.7" width="42.6" height="69.9" fill="#000" opacity="0.10" filter="url(#blur)"/><rect x="719.1" y="1811.7" width="39.6" height="67.9" fill="url(#grb8a7cd)"/><rect x="719.1" y="1811.7" width="39.6" height="67.9" fill="url(#vdark)"/><rect x="721.1" y="1811.7" width="35.6" height="2.2" fill="#fffbff" opacity="0.55"/><rect x="719.1" y="1811.7" width="39.6" height="2.6" fill="#58535e"/><rect x="721.1" y="1877.6" width="35.6" height="2" fill="#fffbff" opacity="0.25"/><polygon points="724.6,1815.7 753.1,1815.7 738.9,1829.7" fill="url(#vgb8a7cd)"/><rect x="775.1" y="1812.7" width="42.6" height="63.7" fill="#000" opacity="0.10" filter="url(#blur)"/><rect x="776.6" y="1811.7" width="39.6" height="61.7" fill="url(#gr654f84)"/><rect x="776.6" y="1811.7" width="39.6" height="61.7" fill="url(#vdark)"/><rect x="778.6" y="1811.7" width="35.6" height="2.2" fill="#b298d4" opacity="0.55"/><rect x="776.6" y="1811.7" width="39.6" height="2.6" fill="#413c4a"/><rect x="778.6" y="1871.4" width="35.6" height="2" fill="#b298d4" opacity="0.25"/><polygon points="782.1,1815.7 810.7,1815.7 796.4,1829.7" fill="url(#vg654f84)"/><rect x="890.6" y="1812.7" width="42.6" height="89.5" fill="#000" opacity="0.10" filter="url(#blur)"/><rect x="892.1" y="1811.7" width="39.6" height="87.5" fill="url(#grfbe7e7)"/><rect x="892.1" y="1811.7" width="39.6" height="87.5" fill="url(#vdark)"/><rect x="894.1" y="1811.7" width="35.6" height="2.2" fill="#ffffff" opacity="0.55"/><rect x="892.1" y="1811.7" width="39.6" height="2.6" fill="#6a6565"/><rect x="894.1" y="1897.2" width="35.6" height="2" fill="#ffffff" opacity="0.25"/><polygon points="897.6,1815.7 926.2,1815.7 911.9,1829.7" fill="url(#vgfbe7e7)"/><rect x="950.1" y="1812.7" width="42.6" height="88.0" fill="#000" opacity="0.10" filter="url(#blur)"/><rect x="951.6" y="1811.7" width="39.6" height="86.0" fill="url(#grf0bebe)"/><rect x="951.6" y="1811.7" width="39.6" height="86.0" fill="url(#vdark)"/><rect x="953.6" y="1811.7" width="35.6" height="2.2" fill="#ffffff" opacity="0.55"/><rect x="951.6" y="1811.7" width="39.6" height="2.6" fill="#675a5a"/><rect x="953.6" y="1895.7" width="35.6" height="2" fill="#ffffff" opacity="0.25"/><polygon points="957.1,1815.7 985.6,1815.7 971.4,1829.7" fill="url(#vgf0bebe)"/><rect x="1007.1" y="1812.7" width="42.6" height="100.4" fill="#000" opacity="0.10" filter="url(#blur)"/><rect x="1008.6" y="1811.7" width="39.6" height="98.4" fill="url(#grde9595)"/><rect x="1008.6" y="1811.7" width="39.6" height="98.4" fill="url(#vdark)"/><rect x="1010.6" y="1811.7" width="35.6" height="2.2" fill="#ffe8e8" opacity="0.55"/><rect x="1008.6" y="1811.7" width="39.6" height="2.6" fill="#624f4f"/><rect x="1010.6" y="1908.1" width="35.6" height="2" fill="#ffe8e8" opacity="0.25"/><polygon points="1014.1,1815.7 1042.7,1815.7 1028.4,1829.7" fill="url(#vgde9595)"/><rect x="1063.7" y="1812.7" width="42.6" height="57.5" fill="#000" opacity="0.10" filter="url(#blur)"/><rect x="1065.2" y="1811.7" width="39.6" height="55.5" fill="url(#gr983939)"/><rect x="1065.2" y="1811.7" width="39.6" height="55.5" fill="url(#vdark)"/><rect x="1067.2" y="1811.7" width="35.6" height="2.2" fill="#eb8080" opacity="0.55"/><rect x="1065.2" y="1811.7" width="39.6" height="2.6" fill="#4f3636"/><rect x="1067.2" y="1865.2" width="35.6" height="2" fill="#eb8080" opacity="0.25"/><polygon points="1070.7,1815.7 1099.3,1815.7 1085.0,1829.7" fill="url(#vg983939)"/><rect x="1180.2" y="1812.7" width="42.6" height="84.9" fill="#000" opacity="0.10" filter="url(#blur)"/><rect x="1181.7" y="1811.7" width="39.6" height="82.9" fill="url(#gre4f7fc)"/><rect x="1181.7" y="1811.7" width="39.6" height="82.9" fill="url(#vdark)"/><rect x="1183.7" y="1811.7" width="35.6" height="2.2" fill="#ffffff" opacity="0.55"/><rect x="1181.7" y="1811.7" width="39.6" height="2.6" fill="#64696a"/><rect x="1183.7" y="1892.6" width="35.6" height="2" fill="#ffffff" opacity="0.25"/><polygon points="1187.2,1815.7 1215.7,1815.7 1201.5,1829.7" fill="url(#vge4f7fc)"/><rect x="1238.6" y="1812.7" width="42.6" height="93.6" fill="#000" opacity="0.10" filter="url(#blur)"/><rect x="1240.1" y="1811.7" width="39.6" height="91.6" fill="url(#gr9fd7e7)"/><rect x="1240.1" y="1811.7" width="39.6" height="91.6" fill="url(#vdark)"/><rect x="1242.1" y="1811.7" width="35.6" height="2.2" fill="#f2ffff" opacity="0.55"/><rect x="1240.1" y="1811.7" width="39.6" height="2.6" fill="#526165"/><rect x="1242.1" y="1901.3" width="35.6" height="2" fill="#f2ffff" opacity="0.25"/><polygon points="1245.6,1815.7 1274.2,1815.7 1259.9,1829.7" fill="url(#vg9fd7e7)"/><rect x="1296.5" y="1812.7" width="42.6" height="100.4" fill="#000" opacity="0.10" filter="url(#blur)"/><rect x="1298.0" y="1811.7" width="39.6" height="98.4" fill="url(#gr358ba4)"/><rect x="1298.0" y="1811.7" width="39.6" height="98.4" fill="url(#vdark)"/><rect x="1300.0" y="1811.7" width="35.6" height="2.2" fill="#7cdcf8" opacity="0.55"/><rect x="1298.0" y="1811.7" width="39.6" height="2.6" fill="#354c53"/><rect x="1300.0" y="1908.1" width="35.6" height="2" fill="#7cdcf8" opacity="0.25"/><polygon points="1303.5,1815.7 1332.1,1815.7 1317.8,1829.7" fill="url(#vg358ba4)"/><rect x="1412.2" y="1812.7" width="42.6" height="89.5" fill="#000" opacity="0.10" filter="url(#blur)"/><rect x="1413.7" y="1811.7" width="39.6" height="87.5" fill="url(#gre4e4e4)"/><rect x="1413.7" y="1811.7" width="39.6" height="87.5" fill="url(#vdark)"/><rect x="1415.7" y="1811.7" width="35.6" height="2.2" fill="#ffffff" opacity="0.55"/><rect x="1413.7" y="1811.7" width="39.6" height="2.6" fill="#646464"/><rect x="1415.7" y="1897.2" width="35.6" height="2" fill="#ffffff" opacity="0.25"/><polygon points="1419.2,1815.7 1447.8,1815.7 1433.5,1829.7" fill="url(#vge4e4e4)"/><rect x="1470.0" y="1812.7" width="42.6" height="109.7" fill="#000" opacity="0.10" filter="url(#blur)"/><rect x="1471.5" y="1811.7" width="39.6" height="107.7" fill="url(#grc5c5c5)"/><rect x="1471.5" y="1811.7" width="39.6" height="107.7" fill="url(#vdark)"/><rect x="1473.5" y="1811.7" width="35.6" height="2.2" fill="#ffffff" opacity="0.55"/><rect x="1471.5" y="1811.7" width="39.6" height="2.6" fill="#5c5c5c"/><rect x="1473.5" y="1917.4" width="35.6" height="2" fill="#ffffff" opacity="0.25"/><polygon points="1477.1,1815.7 1505.6,1815.7 1491.3,1829.7" fill="url(#vgc5c5c5)"/><rect x="1528.7" y="1812.7" width="42.6" height="125.9" fill="#000" opacity="0.10" filter="url(#blur)"/><rect x="1530.2" y="1811.7" width="39.6" height="123.9" fill="url(#gr818181)"/><rect x="1530.2" y="1811.7" width="39.6" height="123.9" fill="url(#vdark)"/><rect x="1532.2" y="1811.7" width="35.6" height="2.2" fill="#d1d1d1" opacity="0.55"/><rect x="1530.2" y="1811.7" width="39.6" height="2.6" fill="#494949"/><rect x="1532.2" y="1933.6" width="35.6" height="2" fill="#d1d1d1" opacity="0.25"/><polygon points="1535.7,1815.7 1564.2,1815.7 1550.0,1829.7" fill="url(#vg818181)"/>
<rect x="1126" y="1819.5" width="33" height="3" fill="#e6e6e6"/>
<line x1="1581.7" y1="1813.0" x2="1581.7" y2="2164.5" stroke="#000" stroke-width="2"/>
<line x1="183.2" y1="2164.5" x2="1581.7" y2="2164.5" stroke="#000" stroke-width="2.6"/>
<line x1="183.2" y1="1813.0" x2="183.2" y2="2164.5" stroke="#808080" stroke-width="2"/>
<rect x="207.8" y="1870.3" width="19" height="4.5" fill="#000"/><rect x="323.9" y="1871.3" width="19" height="4.5" fill="#000"/><rect x="381.4" y="1877.8" width="19" height="4.5" fill="#000"/><rect x="439.5" y="1873.5" width="19" height="4.5" fill="#000"/><rect x="496.6" y="1864.8" width="19" height="4.5" fill="#000"/><rect x="613.8" y="1917.5" width="19" height="5.0" fill="#000"/><rect x="670.2" y="1904.1" width="19" height="5.0" fill="#000"/><rect x="737.0" y="1872.8" width="2.6" height="8.5" fill="#000"/><rect x="728.8" y="1872.8" width="19.0" height="2.5" fill="#000"/><rect x="728.8" y="1878.8" width="19.0" height="2.5" fill="#000"/><rect x="786.1" y="1870.1" width="19" height="4.8" fill="#000"/><rect x="901.6" y="1896.2" width="19" height="4.5" fill="#000"/><rect x="961.1" y="1896.7" width="19" height="2.5" fill="#000"/><rect x="1018.1" y="1907.1" width="19" height="4.5" fill="#000"/><rect x="1074.7" y="1864.2" width="19" height="4.5" fill="#000"/><rect x="1191.2" y="1891.6" width="19" height="4.5" fill="#000"/><rect x="1249.6" y="1900.3" width="19" height="4.5" fill="#000"/><rect x="1307.5" y="1907.1" width="19" height="4.5" fill="#000"/><rect x="1423.2" y="1896.2" width="19" height="4.5" fill="#000"/><rect x="1481.0" y="1918.4" width="19" height="2.5" fill="#000"/><rect x="1539.7" y="1932.6" width="19" height="4.5" fill="#000"/>
<text x="140.1" y="1819.6" font-size="24.5" font-weight="normal" text-anchor="start" font-family="'Liberation Sans', Arial, sans-serif" fill="#111" textLength="17.2" lengthAdjust="spacingAndGlyphs" stroke="#111" stroke-width="0.30">0</text><text x="140.1" y="1996.1" font-size="24.5" font-weight="normal" text-anchor="start" font-family="'Liberation Sans', Arial, sans-serif" fill="#111" textLength="17.2" lengthAdjust="spacingAndGlyphs" stroke="#111" stroke-width="0.30">3</text><text x="140.1" y="2170.8" font-size="24.5" font-weight="normal" text-anchor="start" font-family="'Liberation Sans', Arial, sans-serif" fill="#111" textLength="17.2" lengthAdjust="spacingAndGlyphs" stroke="#111" stroke-width="0.30">5</text>
<text style="white-space:pre" transform="translate(129.5,2111.0) rotate(-90)" x="0" y="0" font-size="28.0" font-weight="bold" font-family="'DejaVu Sans Condensed', 'DejaVu Sans', 'Liberation Sans', sans-serif" fill="#111" textLength="283.0" lengthAdjust="spacingAndGlyphs">Root F. Wt (g plant<tspan font-size="18" dy="-9">-1</tspan><tspan dy="9">)</tspan></text>
<text x="206.1" y="1920.6" font-size="30.0" font-weight="normal" text-anchor="start" font-family="'Liberation Sans', Arial, sans-serif" fill="#1a1a1a" textLength="20.8" lengthAdjust="spacingAndGlyphs" stroke="#1a1a1a" stroke-width="0.00">e</text><text x="322.2" y="1926.1" font-size="30.0" font-weight="normal" text-anchor="start" font-family="'Liberation Sans', Arial, sans-serif" fill="#1a1a1a" textLength="21.2" lengthAdjust="spacingAndGlyphs" stroke="#1a1a1a" stroke-width="0.00">b</text><text x="379.0" y="1932.0" font-size="30.0" font-weight="normal" text-anchor="start" font-family="'Liberation Sans', Arial, sans-serif" fill="#1a1a1a" textLength="20.8" lengthAdjust="spacingAndGlyphs" stroke="#1a1a1a" stroke-width="0.00">e</text><text x="437.0" y="1929.4" font-size="30.0" font-weight="normal" text-anchor="start" font-family="'Liberation Sans', Arial, sans-serif" fill="#1a1a1a" textLength="20.8" lengthAdjust="spacingAndGlyphs" stroke="#1a1a1a" stroke-width="0.00">e</text><text x="494.3" y="1920.6" font-size="30.0" font-weight="normal" text-anchor="start" font-family="'Liberation Sans', Arial, sans-serif" fill="#1a1a1a" textLength="20.8" lengthAdjust="spacingAndGlyphs" stroke="#1a1a1a" stroke-width="0.00">e</text><text x="611.1" y="1972.0" font-size="30.0" font-weight="normal" text-anchor="start" font-family="'Liberation Sans', Arial, sans-serif" fill="#1a1a1a" textLength="20.8" lengthAdjust="spacingAndGlyphs" stroke="#1a1a1a" stroke-width="0.00">e</text><text x="662.8" y="1958.6" font-size="30.0" font-weight="normal" text-anchor="start" font-family="'Liberation Sans', Arial, sans-serif" fill="#1a1a1a" textLength="33.0" lengthAdjust="spacingAndGlyphs" stroke="#1a1a1a" stroke-width="0.00">cd</text><text x="726.2" y="1928.4" font-size="30.0" font-weight="normal" text-anchor="start" font-family="'Liberation Sans', Arial, sans-serif" fill="#1a1a1a" textLength="20.8" lengthAdjust="spacingAndGlyphs" stroke="#1a1a1a" stroke-width="0.00">e</text><text x="786.4" y="1926.2" font-size="30.0" font-weight="normal" text-anchor="start" font-family="'Liberation Sans', Arial, sans-serif" fill="#1a1a1a" textLength="20.8" lengthAdjust="spacingAndGlyphs" stroke="#1a1a1a" stroke-width="0.00">e</text><text x="894.6" y="1950.2" font-size="30.0" font-weight="normal" text-anchor="start" font-family="'Liberation Sans', Arial, sans-serif" fill="#1a1a1a" textLength="33.0" lengthAdjust="spacingAndGlyphs" stroke="#1a1a1a" stroke-width="0.00">cd</text><text x="952.1" y="1950.2" font-size="30.0" font-weight="normal" text-anchor="start" font-family="'Liberation Sans', Arial, sans-serif" fill="#1a1a1a" textLength="33.0" lengthAdjust="spacingAndGlyphs" stroke="#1a1a1a" stroke-width="0.00">cd</text><text x="1009.7" y="1961.1" font-size="30.0" font-weight="normal" text-anchor="start" font-family="'Liberation Sans', Arial, sans-serif" fill="#1a1a1a" textLength="35.0" lengthAdjust="spacingAndGlyphs" stroke="#1a1a1a" stroke-width="0.00">bc</text><text x="1075.0" y="1926.2" font-size="30.0" font-weight="normal" text-anchor="start" font-family="'Liberation Sans', Arial, sans-serif" fill="#1a1a1a" textLength="20.8" lengthAdjust="spacingAndGlyphs" stroke="#1a1a1a" stroke-width="0.00">e</text><text x="1188.7" y="1944.9" font-size="30.0" font-weight="normal" text-anchor="start" font-family="'Liberation Sans', Arial, sans-serif" fill="#1a1a1a" textLength="20.7" lengthAdjust="spacingAndGlyphs" stroke="#1a1a1a" stroke-width="0.00">d</text><text x="1241.1" y="1952.4" font-size="30.0" font-weight="normal" text-anchor="start" font-family="'Liberation Sans', Arial, sans-serif" fill="#1a1a1a" textLength="33.0" lengthAdjust="spacingAndGlyphs" stroke="#1a1a1a" stroke-width="0.00">cd</text><text x="1298.9" y="1961.1" font-size="30.0" font-weight="normal" text-anchor="start" font-family="'Liberation Sans', Arial, sans-serif" fill="#1a1a1a" textLength="35.0" lengthAdjust="spacingAndGlyphs" stroke="#1a1a1a" stroke-width="0.00">bc</text><text x="1415.3" y="1948.0" font-size="30.0" font-weight="normal" text-anchor="start" font-family="'Liberation Sans', Arial, sans-serif" fill="#1a1a1a" textLength="33.0" lengthAdjust="spacingAndGlyphs" stroke="#1a1a1a" stroke-width="0.00">cd</text><text x="1478.4" y="1972.0" font-size="30.0" font-weight="normal" text-anchor="start" font-family="'Liberation Sans', Arial, sans-serif" fill="#1a1a1a" textLength="21.2" lengthAdjust="spacingAndGlyphs" stroke="#1a1a1a" stroke-width="0.00">b</text><text x="1537.8" y="1985.3" font-size="30.0" font-weight="normal" text-anchor="start" font-family="'Liberation Sans', Arial, sans-serif" fill="#1a1a1a" textLength="19.3" lengthAdjust="spacingAndGlyphs" stroke="#1a1a1a" stroke-width="0.00">a</text></svg></body></html>
